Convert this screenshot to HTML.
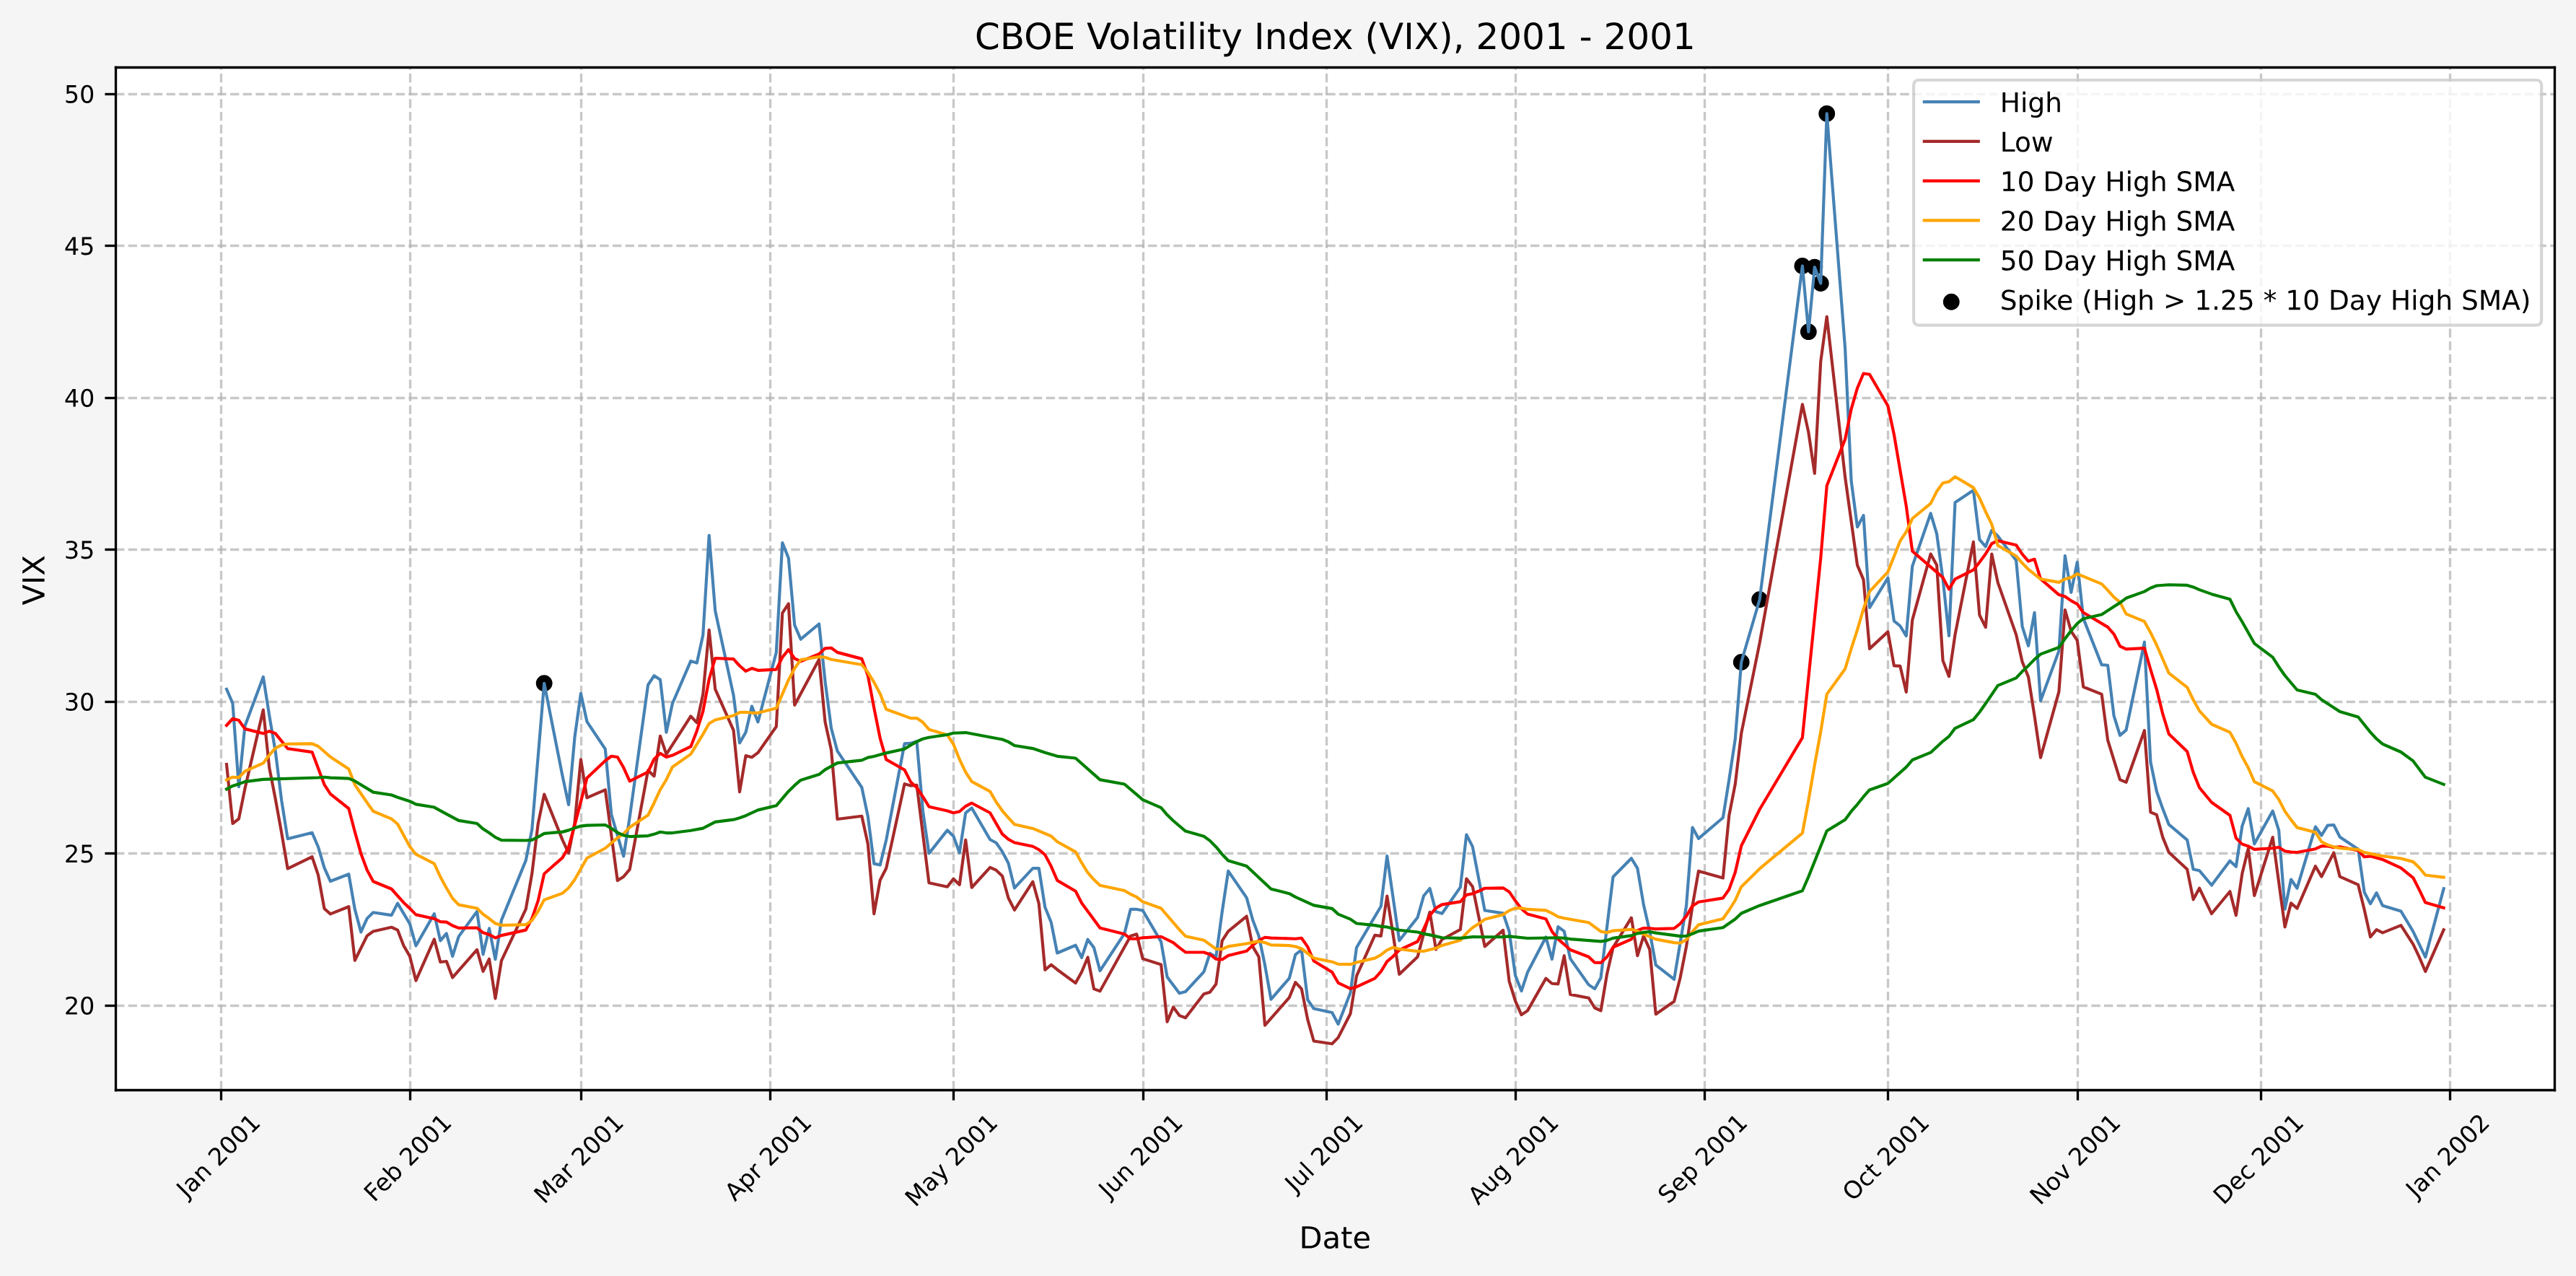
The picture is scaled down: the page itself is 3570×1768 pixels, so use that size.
<!DOCTYPE html>
<html lang="en">
<head>
<meta charset="utf-8">
<title>CBOE Volatility Index (VIX), 2001 - 2001</title>
<style>
html,body{margin:0;padding:0;background:#f5f5f5;font-family:"Liberation Sans",sans-serif}
body{width:3570px;height:1768px;overflow:hidden}
svg{display:block}
.t{font-family:"Liberation Sans",sans-serif;fill:#000;fill-opacity:0}
</style>
</head>
<body>
<svg width="3570" height="1768" viewBox="0 0 856.8 424.32">
<defs>
<style type="text/css">*{stroke-linejoin: round; stroke-linecap: butt}</style>
</defs>
<g id="figure_1">
<g id="patch_1">
<path d="M 0 424.32 L 856.8 424.32 L 856.8 0 L 0 0 z" style="fill: #f5f5f5"/>
</g>
<g id="axes_1">
<g id="patch_2">
<path d="M 38.4 362.4 L 849.6 362.4 L 849.6 22.32 L 38.4 22.32 z" style="fill: #ffffff"/>
</g>
<g id="PathCollection_1">
<defs>
<path id="m81a8349611" d="M 0 2.236 C 0.593 2.236 1.162 2 1.581 1.581 C 2 1.162 2.236 0.593 2.236 0 C 2.236 -0.593 2 -1.162 1.581 -1.581 C 1.162 -2 0.593 -2.236 0 -2.236 C -0.593 -2.236 -1.162 -2 -1.581 -1.581 C -2 -1.162 -2.236 -0.593 -2.236 0 C -2.236 0.593 -2 1.162 -1.581 1.581 C -1.162 2 -0.593 2.236 0 2.236 z" style="stroke: #000000"/>
</defs>
<g clip-path="url(#p060f261e8b)">
<use href="#m81a8349611" x="181.001712" y="227.224986" style="stroke: #000000"/>
<use href="#m81a8349611" x="579.176496" y="220.198034" style="stroke: #000000"/>
<use href="#m81a8349611" x="585.271008" y="199.37675" style="stroke: #000000"/>
<use href="#m81a8349611" x="599.491536" y="88.42568" style="stroke: #000000"/>
<use href="#m81a8349611" x="601.52304" y="110.326586" style="stroke: #000000"/>
<use href="#m81a8349611" x="603.554544" y="88.811259" style="stroke: #000000"/>
<use href="#m81a8349611" x="605.586048" y="94.20937" style="stroke: #000000"/>
<use href="#m81a8349611" x="607.617552" y="37.776" style="stroke: #000000"/>
</g>
</g>
<g id="matplotlib.axis_1">
<g id="xtick_1">
<g id="line2d_1">
<path d="M 73.56 362.4 L 73.56 22.32" clip-path="url(#p060f261e8b)" style="fill: none; stroke-dasharray: 2.96,1.28; stroke-dashoffset: 0; stroke: #b0b0b0; stroke-opacity: 0.7; stroke-width: 0.8"/>
</g>
<g id="line2d_2">
<defs>
<path id="m1504cfccaf" d="M 0 0 L 0 3.5" style="stroke: #000000; stroke-width: 0.8"/>
</defs>
<g>
<use href="#m1504cfccaf" x="73.56" y="362.4" style="stroke: #000000; stroke-width: 0.8"/>
</g>
</g>
<g id="text_1">
<text class="t" transform="translate(62.1475 398.7092) rotate(-45)" font-size="8" textLength="34.4958" lengthAdjust="spacingAndGlyphs">Jan 2001</text>
<g transform="translate(62.1475 398.7092) rotate(-45) scale(0.08 -0.08)">
<defs>
<path id="DejaVuSans-4a" d="M 628 4666 L 1259 4666 L 1259 325 Q 1259 -519 939 -900 Q 619 -1281 -91 -1281 L -331 -1281 L -331 -750 L -134 -750 Q 284 -750 456 -515 Q 628 -281 628 325 L 628 4666 z" transform="scale(0.015625)"/>
<path id="DejaVuSans-61" d="M 2194 1759 Q 1497 1759 1228 1600 Q 959 1441 959 1056 Q 959 750 1161 570 Q 1363 391 1709 391 Q 2188 391 2477 730 Q 2766 1069 2766 1631 L 2766 1759 L 2194 1759 z M 3341 1997 L 3341 0 L 2766 0 L 2766 531 Q 2569 213 2275 61 Q 1981 -91 1556 -91 Q 1019 -91 701 211 Q 384 513 384 1019 Q 384 1609 779 1909 Q 1175 2209 1959 2209 L 2766 2209 L 2766 2266 Q 2766 2663 2505 2880 Q 2244 3097 1772 3097 Q 1472 3097 1187 3025 Q 903 2953 641 2809 L 641 3341 Q 956 3463 1253 3523 Q 1550 3584 1831 3584 Q 2591 3584 2966 3190 Q 3341 2797 3341 1997 z" transform="scale(0.015625)"/>
<path id="DejaVuSans-6e" d="M 3513 2113 L 3513 0 L 2938 0 L 2938 2094 Q 2938 2591 2744 2837 Q 2550 3084 2163 3084 Q 1697 3084 1428 2787 Q 1159 2491 1159 1978 L 1159 0 L 581 0 L 581 3500 L 1159 3500 L 1159 2956 Q 1366 3272 1645 3428 Q 1925 3584 2291 3584 Q 2894 3584 3203 3211 Q 3513 2838 3513 2113 z" transform="scale(0.015625)"/>
<path id="DejaVuSans-20" transform="scale(0.015625)"/>
<path id="DejaVuSans-32" d="M 1228 531 L 3431 531 L 3431 0 L 469 0 L 469 531 Q 828 903 1448 1529 Q 2069 2156 2228 2338 Q 2531 2678 2651 2914 Q 2772 3150 2772 3378 Q 2772 3750 2511 3984 Q 2250 4219 1831 4219 Q 1534 4219 1204 4116 Q 875 4013 500 3803 L 500 4441 Q 881 4594 1212 4672 Q 1544 4750 1819 4750 Q 2544 4750 2975 4387 Q 3406 4025 3406 3419 Q 3406 3131 3298 2873 Q 3191 2616 2906 2266 Q 2828 2175 2409 1742 Q 1991 1309 1228 531 z" transform="scale(0.015625)"/>
<path id="DejaVuSans-30" d="M 2034 4250 Q 1547 4250 1301 3770 Q 1056 3291 1056 2328 Q 1056 1369 1301 889 Q 1547 409 2034 409 Q 2525 409 2770 889 Q 3016 1369 3016 2328 Q 3016 3291 2770 3770 Q 2525 4250 2034 4250 z M 2034 4750 Q 2819 4750 3233 4129 Q 3647 3509 3647 2328 Q 3647 1150 3233 529 Q 2819 -91 2034 -91 Q 1250 -91 836 529 Q 422 1150 422 2328 Q 422 3509 836 4129 Q 1250 4750 2034 4750 z" transform="scale(0.015625)"/>
<path id="DejaVuSans-31" d="M 794 531 L 1825 531 L 1825 4091 L 703 3866 L 703 4441 L 1819 4666 L 2450 4666 L 2450 531 L 3481 531 L 3481 0 L 794 0 L 794 531 z" transform="scale(0.015625)"/>
</defs>
<use href="#DejaVuSans-4a"/>
<use href="#DejaVuSans-61" transform="translate(29.492188 0)"/>
<use href="#DejaVuSans-6e" transform="translate(90.771484 0)"/>
<use href="#DejaVuSans-20" transform="translate(154.150391 0)"/>
<use href="#DejaVuSans-32" transform="translate(185.9375 0)"/>
<use href="#DejaVuSans-30" transform="translate(249.560547 0)"/>
<use href="#DejaVuSans-30" transform="translate(313.183594 0)"/>
<use href="#DejaVuSans-31" transform="translate(376.806641 0)"/>
</g>
</g>
</g>
<g id="xtick_2">
<g id="line2d_3">
<path d="M 136.44 362.4 L 136.44 22.32" clip-path="url(#p060f261e8b)" style="fill: none; stroke-dasharray: 2.96,1.28; stroke-dashoffset: 0; stroke: #b0b0b0; stroke-opacity: 0.7; stroke-width: 0.8"/>
</g>
<g id="line2d_4">
<g>
<use href="#m1504cfccaf" x="136.44" y="362.4" style="stroke: #000000; stroke-width: 0.8"/>
</g>
</g>
<g id="text_2">
<text class="t" transform="translate(124.4771 400.0032) rotate(-45)" font-size="8" textLength="36.3253" lengthAdjust="spacingAndGlyphs">Feb 2001</text>
<g transform="translate(124.4771 400.0032) rotate(-45) scale(0.08 -0.08)">
<defs>
<path id="DejaVuSans-46" d="M 628 4666 L 3309 4666 L 3309 4134 L 1259 4134 L 1259 2759 L 3109 2759 L 3109 2228 L 1259 2228 L 1259 0 L 628 0 L 628 4666 z" transform="scale(0.015625)"/>
<path id="DejaVuSans-65" d="M 3597 1894 L 3597 1613 L 953 1613 Q 991 1019 1311 708 Q 1631 397 2203 397 Q 2534 397 2845 478 Q 3156 559 3463 722 L 3463 178 Q 3153 47 2828 -22 Q 2503 -91 2169 -91 Q 1331 -91 842 396 Q 353 884 353 1716 Q 353 2575 817 3079 Q 1281 3584 2069 3584 Q 2775 3584 3186 3129 Q 3597 2675 3597 1894 z M 3022 2063 Q 3016 2534 2758 2815 Q 2500 3097 2075 3097 Q 1594 3097 1305 2825 Q 1016 2553 972 2059 L 3022 2063 z" transform="scale(0.015625)"/>
<path id="DejaVuSans-62" d="M 3116 1747 Q 3116 2381 2855 2742 Q 2594 3103 2138 3103 Q 1681 3103 1420 2742 Q 1159 2381 1159 1747 Q 1159 1113 1420 752 Q 1681 391 2138 391 Q 2594 391 2855 752 Q 3116 1113 3116 1747 z M 1159 2969 Q 1341 3281 1617 3432 Q 1894 3584 2278 3584 Q 2916 3584 3314 3078 Q 3713 2572 3713 1747 Q 3713 922 3314 415 Q 2916 -91 2278 -91 Q 1894 -91 1617 61 Q 1341 213 1159 525 L 1159 0 L 581 0 L 581 4863 L 1159 4863 L 1159 2969 z" transform="scale(0.015625)"/>
</defs>
<use href="#DejaVuSans-46"/>
<use href="#DejaVuSans-65" transform="translate(52.019531 0)"/>
<use href="#DejaVuSans-62" transform="translate(113.542969 0)"/>
<use href="#DejaVuSans-20" transform="translate(177.019531 0)"/>
<use href="#DejaVuSans-32" transform="translate(208.806641 0)"/>
<use href="#DejaVuSans-30" transform="translate(272.429688 0)"/>
<use href="#DejaVuSans-30" transform="translate(336.052734 0)"/>
<use href="#DejaVuSans-31" transform="translate(399.675781 0)"/>
</g>
</g>
</g>
<g id="xtick_3">
<g id="line2d_5">
<path d="M 193.32 362.4 L 193.32 22.32" clip-path="url(#p060f261e8b)" style="fill: none; stroke-dasharray: 2.96,1.28; stroke-dashoffset: 0; stroke: #b0b0b0; stroke-opacity: 0.7; stroke-width: 0.8"/>
</g>
<g id="line2d_6">
<g>
<use href="#m1504cfccaf" x="193.32" y="362.4" style="stroke: #000000; stroke-width: 0.8"/>
</g>
</g>
<g id="text_3">
<text class="t" transform="translate(181.03 400.6617) rotate(-45)" font-size="8" textLength="37.2575" lengthAdjust="spacingAndGlyphs">Mar 2001</text>
<g transform="translate(181.03 400.6617) rotate(-45) scale(0.08 -0.08)">
<defs>
<path id="DejaVuSans-4d" d="M 628 4666 L 1569 4666 L 2759 1491 L 3956 4666 L 4897 4666 L 4897 0 L 4281 0 L 4281 4097 L 3078 897 L 2444 897 L 1241 4097 L 1241 0 L 628 0 L 628 4666 z" transform="scale(0.015625)"/>
<path id="DejaVuSans-72" d="M 2631 2963 Q 2534 3019 2420 3045 Q 2306 3072 2169 3072 Q 1681 3072 1420 2755 Q 1159 2438 1159 1844 L 1159 0 L 581 0 L 581 3500 L 1159 3500 L 1159 2956 Q 1341 3275 1631 3429 Q 1922 3584 2338 3584 Q 2397 3584 2469 3576 Q 2541 3569 2628 3553 L 2631 2963 z" transform="scale(0.015625)"/>
</defs>
<use href="#DejaVuSans-4d"/>
<use href="#DejaVuSans-61" transform="translate(86.279297 0)"/>
<use href="#DejaVuSans-72" transform="translate(147.558594 0)"/>
<use href="#DejaVuSans-20" transform="translate(188.671875 0)"/>
<use href="#DejaVuSans-32" transform="translate(220.458984 0)"/>
<use href="#DejaVuSans-30" transform="translate(284.082031 0)"/>
<use href="#DejaVuSans-30" transform="translate(347.705078 0)"/>
<use href="#DejaVuSans-31" transform="translate(411.328125 0)"/>
</g>
</g>
</g>
<g id="xtick_4">
<g id="line2d_7">
<path d="M 256.2 362.4 L 256.2 22.32" clip-path="url(#p060f261e8b)" style="fill: none; stroke-dasharray: 2.96,1.28; stroke-dashoffset: 0; stroke: #b0b0b0; stroke-opacity: 0.7; stroke-width: 0.8"/>
</g>
<g id="line2d_8">
<g>
<use href="#m1504cfccaf" x="256.2" y="362.4" style="stroke: #000000; stroke-width: 0.8"/>
</g>
</g>
<g id="text_4">
<text class="t" transform="translate(244.4499 399.7752) rotate(-45)" font-size="8" textLength="36.0036" lengthAdjust="spacingAndGlyphs">Apr 2001</text>
<g transform="translate(244.4499 399.7752) rotate(-45) scale(0.08 -0.08)">
<defs>
<path id="DejaVuSans-41" d="M 2188 4044 L 1331 1722 L 3047 1722 L 2188 4044 z M 1831 4666 L 2547 4666 L 4325 0 L 3669 0 L 3244 1197 L 1141 1197 L 716 0 L 50 0 L 1831 4666 z" transform="scale(0.015625)"/>
<path id="DejaVuSans-70" d="M 1159 525 L 1159 -1331 L 581 -1331 L 581 3500 L 1159 3500 L 1159 2969 Q 1341 3281 1617 3432 Q 1894 3584 2278 3584 Q 2916 3584 3314 3078 Q 3713 2572 3713 1747 Q 3713 922 3314 415 Q 2916 -91 2278 -91 Q 1894 -91 1617 61 Q 1341 213 1159 525 z M 3116 1747 Q 3116 2381 2855 2742 Q 2594 3103 2138 3103 Q 1681 3103 1420 2742 Q 1159 2381 1159 1747 Q 1159 1113 1420 752 Q 1681 391 2138 391 Q 2594 391 2855 752 Q 3116 1113 3116 1747 z" transform="scale(0.015625)"/>
</defs>
<use href="#DejaVuSans-41"/>
<use href="#DejaVuSans-70" transform="translate(68.408203 0)"/>
<use href="#DejaVuSans-72" transform="translate(131.884766 0)"/>
<use href="#DejaVuSans-20" transform="translate(172.998047 0)"/>
<use href="#DejaVuSans-32" transform="translate(204.785156 0)"/>
<use href="#DejaVuSans-30" transform="translate(268.408203 0)"/>
<use href="#DejaVuSans-30" transform="translate(332.03125 0)"/>
<use href="#DejaVuSans-31" transform="translate(395.654297 0)"/>
</g>
</g>
</g>
<g id="xtick_5">
<g id="line2d_9">
<path d="M 317.16 362.4 L 317.16 22.32" clip-path="url(#p060f261e8b)" style="fill: none; stroke-dasharray: 2.96,1.28; stroke-dashoffset: 0; stroke: #b0b0b0; stroke-opacity: 0.7; stroke-width: 0.8"/>
</g>
<g id="line2d_10">
<g>
<use href="#m1504cfccaf" x="317.16" y="362.4" style="stroke: #000000; stroke-width: 0.8"/>
</g>
</g>
<g id="text_5">
<text class="t" transform="translate(304.4404 401.6844) rotate(-45)" font-size="8" textLength="38.7028" lengthAdjust="spacingAndGlyphs">May 2001</text>
<g transform="translate(304.4404 401.6844) rotate(-45) scale(0.08 -0.08)">
<defs>
<path id="DejaVuSans-79" d="M 2059 -325 Q 1816 -950 1584 -1140 Q 1353 -1331 966 -1331 L 506 -1331 L 506 -850 L 844 -850 Q 1081 -850 1212 -737 Q 1344 -625 1503 -206 L 1606 56 L 191 3500 L 800 3500 L 1894 763 L 2988 3500 L 3597 3500 L 2059 -325 z" transform="scale(0.015625)"/>
</defs>
<use href="#DejaVuSans-4d"/>
<use href="#DejaVuSans-61" transform="translate(86.279297 0)"/>
<use href="#DejaVuSans-79" transform="translate(147.558594 0)"/>
<use href="#DejaVuSans-20" transform="translate(206.738281 0)"/>
<use href="#DejaVuSans-32" transform="translate(238.525391 0)"/>
<use href="#DejaVuSans-30" transform="translate(302.148438 0)"/>
<use href="#DejaVuSans-30" transform="translate(365.771484 0)"/>
<use href="#DejaVuSans-31" transform="translate(429.394531 0)"/>
</g>
</g>
</g>
<g id="xtick_6">
<g id="line2d_11">
<path d="M 380.28 362.4 L 380.28 22.32" clip-path="url(#p060f261e8b)" style="fill: none; stroke-dasharray: 2.96,1.28; stroke-dashoffset: 0; stroke: #b0b0b0; stroke-opacity: 0.7; stroke-width: 0.8"/>
</g>
<g id="line2d_12">
<g>
<use href="#m1504cfccaf" x="380.28" y="362.4" style="stroke: #000000; stroke-width: 0.8"/>
</g>
</g>
<g id="text_6">
<text class="t" transform="translate(368.8454 398.8277) rotate(-45)" font-size="8" textLength="34.6638" lengthAdjust="spacingAndGlyphs">Jun 2001</text>
<g transform="translate(368.8454 398.8277) rotate(-45) scale(0.08 -0.08)">
<defs>
<path id="DejaVuSans-75" d="M 544 1381 L 544 3500 L 1119 3500 L 1119 1403 Q 1119 906 1312 657 Q 1506 409 1894 409 Q 2359 409 2629 706 Q 2900 1003 2900 1516 L 2900 3500 L 3475 3500 L 3475 0 L 2900 0 L 2900 538 Q 2691 219 2414 64 Q 2138 -91 1772 -91 Q 1169 -91 856 284 Q 544 659 544 1381 z M 1991 3584 L 1991 3584 z" transform="scale(0.015625)"/>
</defs>
<use href="#DejaVuSans-4a"/>
<use href="#DejaVuSans-75" transform="translate(29.492188 0)"/>
<use href="#DejaVuSans-6e" transform="translate(92.871094 0)"/>
<use href="#DejaVuSans-20" transform="translate(156.25 0)"/>
<use href="#DejaVuSans-32" transform="translate(188.037109 0)"/>
<use href="#DejaVuSans-30" transform="translate(251.660156 0)"/>
<use href="#DejaVuSans-30" transform="translate(315.283203 0)"/>
<use href="#DejaVuSans-31" transform="translate(378.90625 0)"/>
</g>
</g>
</g>
<g id="xtick_7">
<g id="line2d_13">
<path d="M 441.24 362.4 L 441.24 22.32" clip-path="url(#p060f261e8b)" style="fill: none; stroke-dasharray: 2.96,1.28; stroke-dashoffset: 0; stroke: #b0b0b0; stroke-opacity: 0.7; stroke-width: 0.8"/>
</g>
<g id="line2d_14">
<g>
<use href="#m1504cfccaf" x="441.24" y="362.4" style="stroke: #000000; stroke-width: 0.8"/>
</g>
</g>
<g id="text_7">
<text class="t" transform="translate(430.7972 396.8142) rotate(-45)" font-size="8" textLength="31.8161" lengthAdjust="spacingAndGlyphs">Jul 2001</text>
<g transform="translate(430.7972 396.8142) rotate(-45) scale(0.08 -0.08)">
<defs>
<path id="DejaVuSans-6c" d="M 603 4863 L 1178 4863 L 1178 0 L 603 0 L 603 4863 z" transform="scale(0.015625)"/>
</defs>
<use href="#DejaVuSans-4a"/>
<use href="#DejaVuSans-75" transform="translate(29.492188 0)"/>
<use href="#DejaVuSans-6c" transform="translate(92.871094 0)"/>
<use href="#DejaVuSans-20" transform="translate(120.654297 0)"/>
<use href="#DejaVuSans-32" transform="translate(152.441406 0)"/>
<use href="#DejaVuSans-30" transform="translate(216.064453 0)"/>
<use href="#DejaVuSans-30" transform="translate(279.6875 0)"/>
<use href="#DejaVuSans-31" transform="translate(343.310547 0)"/>
</g>
</g>
</g>
<g id="xtick_8">
<g id="line2d_15">
<path d="M 504.12 362.4 L 504.12 22.32" clip-path="url(#p060f261e8b)" style="fill: none; stroke-dasharray: 2.96,1.28; stroke-dashoffset: 0; stroke: #b0b0b0; stroke-opacity: 0.7; stroke-width: 0.8"/>
</g>
<g id="line2d_16">
<g>
<use href="#m1504cfccaf" x="504.12" y="362.4" style="stroke: #000000; stroke-width: 0.8"/>
</g>
</g>
<g id="text_8">
<text class="t" transform="translate(491.6636 401.0347) rotate(-45)" font-size="8" textLength="37.7848" lengthAdjust="spacingAndGlyphs">Aug 2001</text>
<g transform="translate(491.6636 401.0347) rotate(-45) scale(0.08 -0.08)">
<defs>
<path id="DejaVuSans-67" d="M 2906 1791 Q 2906 2416 2648 2759 Q 2391 3103 1925 3103 Q 1463 3103 1205 2759 Q 947 2416 947 1791 Q 947 1169 1205 825 Q 1463 481 1925 481 Q 2391 481 2648 825 Q 2906 1169 2906 1791 z M 3481 434 Q 3481 -459 3084 -895 Q 2688 -1331 1869 -1331 Q 1566 -1331 1297 -1286 Q 1028 -1241 775 -1147 L 775 -588 Q 1028 -725 1275 -790 Q 1522 -856 1778 -856 Q 2344 -856 2625 -561 Q 2906 -266 2906 331 L 2906 616 Q 2728 306 2450 153 Q 2172 0 1784 0 Q 1141 0 747 490 Q 353 981 353 1791 Q 353 2603 747 3093 Q 1141 3584 1784 3584 Q 2172 3584 2450 3431 Q 2728 3278 2906 2969 L 2906 3500 L 3481 3500 L 3481 434 z" transform="scale(0.015625)"/>
</defs>
<use href="#DejaVuSans-41"/>
<use href="#DejaVuSans-75" transform="translate(68.408203 0)"/>
<use href="#DejaVuSans-67" transform="translate(131.787109 0)"/>
<use href="#DejaVuSans-20" transform="translate(195.263672 0)"/>
<use href="#DejaVuSans-32" transform="translate(227.050781 0)"/>
<use href="#DejaVuSans-30" transform="translate(290.673828 0)"/>
<use href="#DejaVuSans-30" transform="translate(354.296875 0)"/>
<use href="#DejaVuSans-31" transform="translate(417.919922 0)"/>
</g>
</g>
</g>
<g id="xtick_9">
<g id="line2d_17">
<path d="M 567 362.4 L 567 22.32" clip-path="url(#p060f261e8b)" style="fill: none; stroke-dasharray: 2.96,1.28; stroke-dashoffset: 0; stroke: #b0b0b0; stroke-opacity: 0.7; stroke-width: 0.8"/>
</g>
<g id="line2d_18">
<g>
<use href="#m1504cfccaf" x="567" y="362.4" style="stroke: #000000; stroke-width: 0.8"/>
</g>
</g>
<g id="text_9">
<text class="t" transform="translate(554.8316 400.652) rotate(-45)" font-size="8" textLength="37.2419" lengthAdjust="spacingAndGlyphs">Sep 2001</text>
<g transform="translate(554.8316 400.652) rotate(-45) scale(0.08 -0.08)">
<defs>
<path id="DejaVuSans-53" d="M 3425 4513 L 3425 3897 Q 3066 4069 2747 4153 Q 2428 4238 2131 4238 Q 1616 4238 1336 4038 Q 1056 3838 1056 3469 Q 1056 3159 1242 3001 Q 1428 2844 1947 2747 L 2328 2669 Q 3034 2534 3370 2195 Q 3706 1856 3706 1288 Q 3706 609 3251 259 Q 2797 -91 1919 -91 Q 1588 -91 1214 -16 Q 841 59 441 206 L 441 856 Q 825 641 1194 531 Q 1563 422 1919 422 Q 2459 422 2753 634 Q 3047 847 3047 1241 Q 3047 1584 2836 1778 Q 2625 1972 2144 2069 L 1759 2144 Q 1053 2284 737 2584 Q 422 2884 422 3419 Q 422 4038 858 4394 Q 1294 4750 2059 4750 Q 2388 4750 2728 4690 Q 3069 4631 3425 4513 z" transform="scale(0.015625)"/>
</defs>
<use href="#DejaVuSans-53"/>
<use href="#DejaVuSans-65" transform="translate(63.476562 0)"/>
<use href="#DejaVuSans-70" transform="translate(125 0)"/>
<use href="#DejaVuSans-20" transform="translate(188.476562 0)"/>
<use href="#DejaVuSans-32" transform="translate(220.263672 0)"/>
<use href="#DejaVuSans-30" transform="translate(283.886719 0)"/>
<use href="#DejaVuSans-30" transform="translate(347.509766 0)"/>
<use href="#DejaVuSans-31" transform="translate(411.132812 0)"/>
</g>
</g>
</g>
<g id="xtick_10">
<g id="line2d_19">
<path d="M 627.96 362.4 L 627.96 22.32" clip-path="url(#p060f261e8b)" style="fill: none; stroke-dasharray: 2.96,1.28; stroke-dashoffset: 0; stroke: #b0b0b0; stroke-opacity: 0.7; stroke-width: 0.8"/>
</g>
<g id="line2d_20">
<g>
<use href="#m1504cfccaf" x="627.96" y="362.4" style="stroke: #000000; stroke-width: 0.8"/>
</g>
</g>
<g id="text_10">
<text class="t" transform="translate(616.2177 399.7699) rotate(-45)" font-size="8" textLength="35.9958" lengthAdjust="spacingAndGlyphs">Oct 2001</text>
<g transform="translate(616.2177 399.7699) rotate(-45) scale(0.08 -0.08)">
<defs>
<path id="DejaVuSans-4f" d="M 2522 4238 Q 1834 4238 1429 3725 Q 1025 3213 1025 2328 Q 1025 1447 1429 934 Q 1834 422 2522 422 Q 3209 422 3611 934 Q 4013 1447 4013 2328 Q 4013 3213 3611 3725 Q 3209 4238 2522 4238 z M 2522 4750 Q 3503 4750 4090 4092 Q 4678 3434 4678 2328 Q 4678 1225 4090 567 Q 3503 -91 2522 -91 Q 1538 -91 948 565 Q 359 1222 359 2328 Q 359 3434 948 4092 Q 1538 4750 2522 4750 z" transform="scale(0.015625)"/>
<path id="DejaVuSans-63" d="M 3122 3366 L 3122 2828 Q 2878 2963 2633 3030 Q 2388 3097 2138 3097 Q 1578 3097 1268 2742 Q 959 2388 959 1747 Q 959 1106 1268 751 Q 1578 397 2138 397 Q 2388 397 2633 464 Q 2878 531 3122 666 L 3122 134 Q 2881 22 2623 -34 Q 2366 -91 2075 -91 Q 1284 -91 818 406 Q 353 903 353 1747 Q 353 2603 823 3093 Q 1294 3584 2113 3584 Q 2378 3584 2631 3529 Q 2884 3475 3122 3366 z" transform="scale(0.015625)"/>
<path id="DejaVuSans-74" d="M 1172 4494 L 1172 3500 L 2356 3500 L 2356 3053 L 1172 3053 L 1172 1153 Q 1172 725 1289 603 Q 1406 481 1766 481 L 2356 481 L 2356 0 L 1766 0 Q 1100 0 847 248 Q 594 497 594 1153 L 594 3053 L 172 3053 L 172 3500 L 594 3500 L 594 4494 L 1172 4494 z" transform="scale(0.015625)"/>
</defs>
<use href="#DejaVuSans-4f"/>
<use href="#DejaVuSans-63" transform="translate(78.710938 0)"/>
<use href="#DejaVuSans-74" transform="translate(133.691406 0)"/>
<use href="#DejaVuSans-20" transform="translate(172.900391 0)"/>
<use href="#DejaVuSans-32" transform="translate(204.6875 0)"/>
<use href="#DejaVuSans-30" transform="translate(268.310547 0)"/>
<use href="#DejaVuSans-30" transform="translate(331.933594 0)"/>
<use href="#DejaVuSans-31" transform="translate(395.556641 0)"/>
</g>
</g>
</g>
<g id="xtick_11">
<g id="line2d_21">
<path d="M 691.08 362.4 L 691.08 22.32" clip-path="url(#p060f261e8b)" style="fill: none; stroke-dasharray: 2.96,1.28; stroke-dashoffset: 0; stroke: #b0b0b0; stroke-opacity: 0.7; stroke-width: 0.8"/>
</g>
<g id="line2d_22">
<g>
<use href="#m1504cfccaf" x="691.08" y="362.4" style="stroke: #000000; stroke-width: 0.8"/>
</g>
</g>
<g id="text_11">
<text class="t" transform="translate(678.5642 401.0303) rotate(-45)" font-size="8" textLength="37.777" lengthAdjust="spacingAndGlyphs">Nov 2001</text>
<g transform="translate(678.5642 401.0303) rotate(-45) scale(0.08 -0.08)">
<defs>
<path id="DejaVuSans-4e" d="M 628 4666 L 1478 4666 L 3547 763 L 3547 4666 L 4159 4666 L 4159 0 L 3309 0 L 1241 3903 L 1241 0 L 628 0 L 628 4666 z" transform="scale(0.015625)"/>
<path id="DejaVuSans-6f" d="M 1959 3097 Q 1497 3097 1228 2736 Q 959 2375 959 1747 Q 959 1119 1226 758 Q 1494 397 1959 397 Q 2419 397 2687 759 Q 2956 1122 2956 1747 Q 2956 2369 2687 2733 Q 2419 3097 1959 3097 z M 1959 3584 Q 2709 3584 3137 3096 Q 3566 2609 3566 1747 Q 3566 888 3137 398 Q 2709 -91 1959 -91 Q 1206 -91 779 398 Q 353 888 353 1747 Q 353 2609 779 3096 Q 1206 3584 1959 3584 z" transform="scale(0.015625)"/>
<path id="DejaVuSans-76" d="M 191 3500 L 800 3500 L 1894 563 L 2988 3500 L 3597 3500 L 2284 0 L 1503 0 L 191 3500 z" transform="scale(0.015625)"/>
</defs>
<use href="#DejaVuSans-4e"/>
<use href="#DejaVuSans-6f" transform="translate(74.804688 0)"/>
<use href="#DejaVuSans-76" transform="translate(135.986328 0)"/>
<use href="#DejaVuSans-20" transform="translate(195.166016 0)"/>
<use href="#DejaVuSans-32" transform="translate(226.953125 0)"/>
<use href="#DejaVuSans-30" transform="translate(290.576172 0)"/>
<use href="#DejaVuSans-30" transform="translate(354.199219 0)"/>
<use href="#DejaVuSans-31" transform="translate(417.822266 0)"/>
</g>
</g>
</g>
<g id="xtick_12">
<g id="line2d_23">
<path d="M 752.04 362.4 L 752.04 22.32" clip-path="url(#p060f261e8b)" style="fill: none; stroke-dasharray: 2.96,1.28; stroke-dashoffset: 0; stroke: #b0b0b0; stroke-opacity: 0.7; stroke-width: 0.8"/>
</g>
<g id="line2d_24">
<g>
<use href="#m1504cfccaf" x="752.04" y="362.4" style="stroke: #000000; stroke-width: 0.8"/>
</g>
</g>
<g id="text_12">
<text class="t" transform="translate(739.5566 400.9357) rotate(-45)" font-size="8" textLength="37.6442" lengthAdjust="spacingAndGlyphs">Dec 2001</text>
<g transform="translate(739.5566 400.9357) rotate(-45) scale(0.08 -0.08)">
<defs>
<path id="DejaVuSans-44" d="M 1259 4147 L 1259 519 L 2022 519 Q 2988 519 3436 956 Q 3884 1394 3884 2338 Q 3884 3275 3436 3711 Q 2988 4147 2022 4147 L 1259 4147 z M 628 4666 L 1925 4666 Q 3281 4666 3915 4102 Q 4550 3538 4550 2338 Q 4550 1131 3912 565 Q 3275 0 1925 0 L 628 0 L 628 4666 z" transform="scale(0.015625)"/>
</defs>
<use href="#DejaVuSans-44"/>
<use href="#DejaVuSans-65" transform="translate(77.001953 0)"/>
<use href="#DejaVuSans-63" transform="translate(138.525391 0)"/>
<use href="#DejaVuSans-20" transform="translate(193.505859 0)"/>
<use href="#DejaVuSans-32" transform="translate(225.292969 0)"/>
<use href="#DejaVuSans-30" transform="translate(288.916016 0)"/>
<use href="#DejaVuSans-30" transform="translate(352.539062 0)"/>
<use href="#DejaVuSans-31" transform="translate(416.162109 0)"/>
</g>
</g>
</g>
<g id="xtick_13">
<g id="line2d_25">
<path d="M 814.92 362.4 L 814.92 22.32" clip-path="url(#p060f261e8b)" style="fill: none; stroke-dasharray: 2.96,1.28; stroke-dashoffset: 0; stroke: #b0b0b0; stroke-opacity: 0.7; stroke-width: 0.8"/>
</g>
<g id="line2d_26">
<g>
<use href="#m1504cfccaf" x="814.92" y="362.4" style="stroke: #000000; stroke-width: 0.8"/>
</g>
</g>
<g id="text_13">
<text class="t" transform="translate(803.6464 398.7092) rotate(-45)" font-size="8" textLength="34.4333" lengthAdjust="spacingAndGlyphs">Jan 2002</text>
<g transform="translate(803.6464 398.7092) rotate(-45) scale(0.08 -0.08)">
<use href="#DejaVuSans-4a"/>
<use href="#DejaVuSans-61" transform="translate(29.492188 0)"/>
<use href="#DejaVuSans-6e" transform="translate(90.771484 0)"/>
<use href="#DejaVuSans-20" transform="translate(154.150391 0)"/>
<use href="#DejaVuSans-32" transform="translate(185.9375 0)"/>
<use href="#DejaVuSans-30" transform="translate(249.560547 0)"/>
<use href="#DejaVuSans-30" transform="translate(313.183594 0)"/>
<use href="#DejaVuSans-32" transform="translate(376.806641 0)"/>
</g>
</g>
</g>
<g id="text_14">
<text class="t" transform="translate(432.1212 415.1073)" font-size="10" textLength="23.3693" lengthAdjust="spacingAndGlyphs">Date</text>
<g transform="translate(432.1212 415.1073) scale(0.1 -0.1)">
<use href="#DejaVuSans-44"/>
<use href="#DejaVuSans-61" transform="translate(77.001953 0)"/>
<use href="#DejaVuSans-74" transform="translate(138.28125 0)"/>
<use href="#DejaVuSans-65" transform="translate(177.490234 0)"/>
</g>
</g>
</g>
<g id="matplotlib.axis_2">
<g id="ytick_1">
<g id="line2d_27">
<path d="M 38.4 334.44 L 849.6 334.44" clip-path="url(#p060f261e8b)" style="fill: none; stroke-dasharray: 2.96,1.28; stroke-dashoffset: 0; stroke: #b0b0b0; stroke-opacity: 0.7; stroke-width: 0.8"/>
</g>
<g id="line2d_28">
<defs>
<path id="m5d545ce8f8" d="M 0 0 L -3.5 0" style="stroke: #000000; stroke-width: 0.8"/>
</defs>
<g>
<use href="#m5d545ce8f8" x="38.4" y="334.44" style="stroke: #000000; stroke-width: 0.8"/>
</g>
</g>
<g id="text_15">
<text class="t" transform="translate(21.34 337.2994)" font-size="8" textLength="9.6486" lengthAdjust="spacingAndGlyphs">20</text>
<g transform="translate(21.34 337.2994) scale(0.08 -0.08)">
<use href="#DejaVuSans-32"/>
<use href="#DejaVuSans-30" transform="translate(63.623047 0)"/>
</g>
</g>
</g>
<g id="ytick_2">
<g id="line2d_29">
<path d="M 38.4 283.8 L 849.6 283.8" clip-path="url(#p060f261e8b)" style="fill: none; stroke-dasharray: 2.96,1.28; stroke-dashoffset: 0; stroke: #b0b0b0; stroke-opacity: 0.7; stroke-width: 0.8"/>
</g>
<g id="line2d_30">
<g>
<use href="#m5d545ce8f8" x="38.4" y="283.8" style="stroke: #000000; stroke-width: 0.8"/>
</g>
</g>
<g id="text_16">
<text class="t" transform="translate(21.34 286.7794)" font-size="8" textLength="9.4811" lengthAdjust="spacingAndGlyphs">25</text>
<g transform="translate(21.34 286.7794) scale(0.08 -0.08)">
<defs>
<path id="DejaVuSans-35" d="M 691 4666 L 3169 4666 L 3169 4134 L 1269 4134 L 1269 2991 Q 1406 3038 1543 3061 Q 1681 3084 1819 3084 Q 2600 3084 3056 2656 Q 3513 2228 3513 1497 Q 3513 744 3044 326 Q 2575 -91 1722 -91 Q 1428 -91 1123 -41 Q 819 9 494 109 L 494 744 Q 775 591 1075 516 Q 1375 441 1709 441 Q 2250 441 2565 725 Q 2881 1009 2881 1497 Q 2881 1984 2565 2268 Q 2250 2553 1709 2553 Q 1456 2553 1204 2497 Q 953 2441 691 2322 L 691 4666 z" transform="scale(0.015625)"/>
</defs>
<use href="#DejaVuSans-32"/>
<use href="#DejaVuSans-35" transform="translate(63.623047 0)"/>
</g>
</g>
</g>
<g id="ytick_3">
<g id="line2d_31">
<path d="M 38.4 233.4 L 849.6 233.4" clip-path="url(#p060f261e8b)" style="fill: none; stroke-dasharray: 2.96,1.28; stroke-dashoffset: 0; stroke: #b0b0b0; stroke-opacity: 0.7; stroke-width: 0.8"/>
</g>
<g id="line2d_32">
<g>
<use href="#m5d545ce8f8" x="38.4" y="233.4" style="stroke: #000000; stroke-width: 0.8"/>
</g>
</g>
<g id="text_17">
<text class="t" transform="translate(21.34 236.2594)" font-size="8" textLength="9.6486" lengthAdjust="spacingAndGlyphs">30</text>
<g transform="translate(21.34 236.2594) scale(0.08 -0.08)">
<defs>
<path id="DejaVuSans-33" d="M 2597 2516 Q 3050 2419 3304 2112 Q 3559 1806 3559 1356 Q 3559 666 3084 287 Q 2609 -91 1734 -91 Q 1441 -91 1130 -33 Q 819 25 488 141 L 488 750 Q 750 597 1062 519 Q 1375 441 1716 441 Q 2309 441 2620 675 Q 2931 909 2931 1356 Q 2931 1769 2642 2001 Q 2353 2234 1838 2234 L 1294 2234 L 1294 2753 L 1863 2753 Q 2328 2753 2575 2939 Q 2822 3125 2822 3475 Q 2822 3834 2567 4026 Q 2313 4219 1838 4219 Q 1578 4219 1281 4162 Q 984 4106 628 3988 L 628 4550 Q 988 4650 1302 4700 Q 1616 4750 1894 4750 Q 2613 4750 3031 4423 Q 3450 4097 3450 3541 Q 3450 3153 3228 2886 Q 3006 2619 2597 2516 z" transform="scale(0.015625)"/>
</defs>
<use href="#DejaVuSans-33"/>
<use href="#DejaVuSans-30" transform="translate(63.623047 0)"/>
</g>
</g>
</g>
<g id="ytick_4">
<g id="line2d_33">
<path d="M 38.4 182.76 L 849.6 182.76" clip-path="url(#p060f261e8b)" style="fill: none; stroke-dasharray: 2.96,1.28; stroke-dashoffset: 0; stroke: #b0b0b0; stroke-opacity: 0.7; stroke-width: 0.8"/>
</g>
<g id="line2d_34">
<g>
<use href="#m5d545ce8f8" x="38.4" y="182.76" style="stroke: #000000; stroke-width: 0.8"/>
</g>
</g>
<g id="text_18">
<text class="t" transform="translate(21.34 185.7394)" font-size="8" textLength="9.4811" lengthAdjust="spacingAndGlyphs">35</text>
<g transform="translate(21.34 185.7394) scale(0.08 -0.08)">
<use href="#DejaVuSans-33"/>
<use href="#DejaVuSans-35" transform="translate(63.623047 0)"/>
</g>
</g>
</g>
<g id="ytick_5">
<g id="line2d_35">
<path d="M 38.4 132.36 L 849.6 132.36" clip-path="url(#p060f261e8b)" style="fill: none; stroke-dasharray: 2.96,1.28; stroke-dashoffset: 0; stroke: #b0b0b0; stroke-opacity: 0.7; stroke-width: 0.8"/>
</g>
<g id="line2d_36">
<g>
<use href="#m5d545ce8f8" x="38.4" y="132.36" style="stroke: #000000; stroke-width: 0.8"/>
</g>
</g>
<g id="text_19">
<text class="t" transform="translate(21.34 135.2194)" font-size="8" textLength="9.6486" lengthAdjust="spacingAndGlyphs">40</text>
<g transform="translate(21.34 135.2194) scale(0.08 -0.08)">
<defs>
<path id="DejaVuSans-34" d="M 2419 4116 L 825 1625 L 2419 1625 L 2419 4116 z M 2253 4666 L 3047 4666 L 3047 1625 L 3713 1625 L 3713 1100 L 3047 1100 L 3047 0 L 2419 0 L 2419 1100 L 313 1100 L 313 1709 L 2253 4666 z" transform="scale(0.015625)"/>
</defs>
<use href="#DejaVuSans-34"/>
<use href="#DejaVuSans-30" transform="translate(63.623047 0)"/>
</g>
</g>
</g>
<g id="ytick_6">
<g id="line2d_37">
<path d="M 38.4 81.72 L 849.6 81.72" clip-path="url(#p060f261e8b)" style="fill: none; stroke-dasharray: 2.96,1.28; stroke-dashoffset: 0; stroke: #b0b0b0; stroke-opacity: 0.7; stroke-width: 0.8"/>
</g>
<g id="line2d_38">
<g>
<use href="#m5d545ce8f8" x="38.4" y="81.72" style="stroke: #000000; stroke-width: 0.8"/>
</g>
</g>
<g id="text_20">
<text class="t" transform="translate(21.34 84.6994)" font-size="8" textLength="9.4811" lengthAdjust="spacingAndGlyphs">45</text>
<g transform="translate(21.34 84.6994) scale(0.08 -0.08)">
<use href="#DejaVuSans-34"/>
<use href="#DejaVuSans-35" transform="translate(63.623047 0)"/>
</g>
</g>
</g>
<g id="ytick_7">
<g id="line2d_39">
<path d="M 38.4 31.32 L 849.6 31.32" clip-path="url(#p060f261e8b)" style="fill: none; stroke-dasharray: 2.96,1.28; stroke-dashoffset: 0; stroke: #b0b0b0; stroke-opacity: 0.7; stroke-width: 0.8"/>
</g>
<g id="line2d_40">
<g>
<use href="#m5d545ce8f8" x="38.4" y="31.32" style="stroke: #000000; stroke-width: 0.8"/>
</g>
</g>
<g id="text_21">
<text class="t" transform="translate(21.34 34.1794)" font-size="8" textLength="9.6486" lengthAdjust="spacingAndGlyphs">50</text>
<g transform="translate(21.34 34.1794) scale(0.08 -0.08)">
<use href="#DejaVuSans-35"/>
<use href="#DejaVuSans-30" transform="translate(63.623047 0)"/>
</g>
</g>
</g>
<g id="text_22">
<text class="t" transform="translate(14.7803 201.2323) rotate(-90)" font-size="10" textLength="16.3275" lengthAdjust="spacingAndGlyphs">VIX</text>
<g transform="translate(14.7803 201.2323) rotate(-90) scale(0.1 -0.1)">
<defs>
<path id="DejaVuSans-56" d="M 1831 0 L 50 4666 L 709 4666 L 2188 738 L 3669 4666 L 4325 4666 L 2547 0 L 1831 0 z" transform="scale(0.015625)"/>
<path id="DejaVuSans-49" d="M 628 4666 L 1259 4666 L 1259 0 L 628 0 L 628 4666 z" transform="scale(0.015625)"/>
<path id="DejaVuSans-58" d="M 403 4666 L 1081 4666 L 2241 2931 L 3406 4666 L 4084 4666 L 2584 2425 L 4184 0 L 3506 0 L 2194 1984 L 872 0 L 191 0 L 1856 2491 L 403 4666 z" transform="scale(0.015625)"/>
</defs>
<use href="#DejaVuSans-56"/>
<use href="#DejaVuSans-49" transform="translate(68.408203 0)"/>
<use href="#DejaVuSans-58" transform="translate(97.900391 0)"/>
</g>
</g>
</g>
<g id="line2d_41">
<path d="M 75.364 229.176 L 77.395 233.891 L 79.427 261.653 L 81.458 241.448 L 87.553 225.1 L 89.584 237.978 L 91.616 249.931 L 93.647 266.125 L 95.679 278.944 L 103.805 276.9 L 105.836 281.643 L 107.868 288.583 L 109.899 293.056 L 115.994 290.704 L 118.025 302.348 L 120.057 309.944 L 122.088 305.433 L 124.12 303.428 L 130.214 304.353 L 132.246 300.382 L 136.309 307.206 L 138.34 314.511 L 144.435 303.869 L 146.466 312.814 L 148.498 310.424 L 150.529 317.981 L 152.561 311.426 L 158.655 303.098 L 160.687 317.364 L 162.718 308.727 L 164.75 319.014 L 166.781 305.981 L 174.907 286.115 L 176.939 275.859 L 181.002 227.225 L 187.096 258.097 L 189.128 267.607 L 191.159 245.116 L 193.191 230.618 L 195.222 239.949 L 201.317 249.113 L 203.348 270.846 L 207.411 284.727 L 209.443 271.8 L 215.537 227.765 L 217.569 224.68 L 219.6 225.991 L 221.632 243.522 L 223.663 233.934 L 229.758 219.822 L 231.789 220.439 L 233.821 211.185 L 235.852 178.025 L 237.884 203.088 L 243.978 231.235 L 246.01 247.069 L 248.041 243.522 L 250.073 234.859 L 252.104 240.103 L 258.199 216.969 L 260.23 180.493 L 262.262 185.582 L 264.293 207.869 L 266.325 212.573 L 272.419 207.483 L 274.451 226.608 L 276.482 242.172 L 278.514 249.768 L 286.64 261.837 L 288.671 271.463 L 290.703 287.195 L 292.734 287.658 L 294.766 279.329 L 300.86 247.301 L 302.892 247.185 L 304.923 246.529 L 306.955 269.69 L 308.986 283.802 L 315.081 276.09 L 317.112 278.018 L 319.144 283.57 L 321.175 270.307 L 323.207 268.687 L 329.302 279.175 L 331.333 280.254 L 333.365 283.185 L 335.396 287.041 L 337.428 295.292 L 343.522 288.737 L 345.554 288.737 L 347.585 301.693 L 349.617 306.705 L 351.648 316.922 L 357.743 314.338 L 359.774 318.425 L 361.806 312.41 L 363.837 315.109 L 365.869 322.821 L 373.995 310.482 L 376.026 302.385 L 378.058 302.385 L 380.089 302.77 L 386.184 313.181 L 388.215 324.903 L 392.278 330.301 L 394.31 329.761 L 400.404 323.206 L 402.436 317.037 L 404.467 318.194 L 406.499 303.156 L 408.53 289.661 L 414.625 298.529 L 416.656 305.855 L 418.688 311.253 L 420.719 320.893 L 422.751 332.306 L 428.845 325.288 L 430.877 317.422 L 432.908 315.88 L 434.94 332.46 L 436.971 335.39 L 443.066 336.701 L 445.097 340.557 L 449.16 330.147 L 451.192 315.109 L 459.318 301.382 L 461.349 284.648 L 465.412 312.796 L 471.507 305.084 L 473.538 297.912 L 475.57 295.444 L 477.601 303.156 L 479.633 303.773 L 485.727 295.059 L 487.759 277.554 L 489.79 281.564 L 493.853 302.77 L 499.948 303.696 L 501.979 309.711 L 504.011 324.363 L 506.042 329.53 L 508.074 323.36 L 514.168 311.639 L 516.2 318.965 L 518.231 308.169 L 520.263 309.711 L 522.294 318.811 L 528.389 327.448 L 530.42 328.836 L 532.452 325.134 L 536.515 291.589 L 542.609 285.419 L 544.641 288.735 L 546.672 300.843 L 548.704 309.711 L 550.735 320.893 L 556.83 325.674 L 560.893 301.228 L 562.924 275.163 L 564.956 278.865 L 573.082 271.924 L 575.113 259.296 L 577.145 245.801 L 579.176 220.198 L 585.271 199.377 L 599.492 88.426 L 601.523 110.327 L 603.555 88.811 L 605.586 94.209 L 607.618 37.776 L 613.712 115.956 L 615.744 159.912 L 617.775 175.239 L 619.807 171.384 L 621.838 202.076 L 627.933 192.205 L 629.964 206.471 L 631.996 208.144 L 634.027 211.46 L 636.059 188.326 L 642.153 170.72 L 644.185 177.506 L 646.216 192.544 L 648.248 211.437 L 650.279 167.095 L 656.374 163.008 L 658.405 179.434 L 660.437 181.747 L 662.468 176.349 L 664.5 178.277 L 670.594 186.374 L 672.626 208.352 L 674.657 214.753 L 676.689 203.725 L 678.72 233.055 L 684.815 216.449 L 686.846 184.832 L 688.878 197.016 L 690.909 186.914 L 692.941 205.653 L 699.035 221.076 L 701.067 221.231 L 703.098 237.99 L 705.13 244.545 L 707.161 242.81 L 713.256 213.519 L 715.287 253.362 L 717.319 263.155 L 719.35 268.939 L 721.382 274.183 L 727.476 279.339 L 729.508 289.095 L 731.539 289.508 L 735.602 294.367 L 741.697 286.27 L 743.728 288.197 L 745.76 274.702 L 747.791 268.918 L 749.823 280.64 L 755.917 269.69 L 757.949 276.09 L 759.98 302.31 L 762.012 292.439 L 764.043 295.369 L 770.138 274.933 L 772.169 277.787 L 774.201 274.471 L 776.232 274.317 L 778.264 278.327 L 784.358 282.414 L 786.39 296.68 L 788.421 300.536 L 790.453 296.912 L 792.484 301.153 L 798.579 303.004 L 802.642 309.79 L 806.705 318.273 L 812.799 295.523 L 812.799 295.523" clip-path="url(#p060f261e8b)" style="fill: none; stroke: #4682b4; stroke-linecap: square"/>
</g>
<g id="line2d_42">
<path d="M 75.364 254.184 L 77.395 273.837 L 79.427 272.295 L 81.458 262.27 L 87.553 236.05 L 89.584 255.329 L 91.616 265.74 L 93.647 276.922 L 95.679 288.853 L 103.805 284.92 L 105.836 290.974 L 107.868 302.155 L 109.899 303.929 L 115.994 301.5 L 118.025 319.369 L 122.088 311.195 L 124.12 309.73 L 130.214 308.342 L 132.246 309.267 L 134.277 314.511 L 136.309 317.981 L 138.34 326.078 L 144.435 312.352 L 146.466 319.909 L 148.498 319.678 L 150.529 325.076 L 158.655 315.822 L 160.687 322.994 L 162.718 318.906 L 164.75 332.046 L 166.781 319.476 L 174.907 302.31 L 176.939 290.511 L 178.97 273.931 L 181.002 264.15 L 187.096 279.329 L 189.128 283.725 L 191.159 273.6 L 193.191 252.544 L 195.222 265.307 L 201.317 262.647 L 205.38 292.824 L 207.411 291.513 L 209.443 289.123 L 215.537 256.169 L 217.569 258.097 L 219.6 244.756 L 221.632 250.848 L 229.758 238.175 L 231.789 240.335 L 233.821 230.849 L 235.852 209.488 L 237.884 229.153 L 243.978 242.866 L 246.01 263.341 L 248.041 251.311 L 250.073 251.812 L 252.104 250.308 L 258.199 241.611 L 260.23 203.859 L 262.262 200.774 L 264.293 234.474 L 272.419 219.282 L 274.451 240.103 L 276.482 249.383 L 278.514 272.389 L 286.64 271.386 L 288.671 280.64 L 290.703 303.852 L 292.734 292.67 L 294.766 288.737 L 300.86 260.68 L 302.892 261.259 L 304.923 261.066 L 308.986 293.596 L 315.081 294.906 L 317.112 292.285 L 319.144 294.212 L 321.175 279.329 L 323.207 295.138 L 329.302 288.429 L 331.333 289.354 L 333.365 291.282 L 335.396 298.608 L 337.428 302.618 L 343.522 293.21 L 345.554 300.536 L 347.585 322.514 L 349.617 320.817 L 351.648 322.436 L 357.743 326.908 L 359.774 323.206 L 361.806 318.348 L 363.837 328.836 L 365.869 329.607 L 376.026 311.253 L 378.058 310.636 L 380.089 318.811 L 386.184 320.738 L 388.215 339.786 L 390.247 334.928 L 392.278 337.704 L 394.31 338.475 L 400.404 330.532 L 402.436 329.915 L 404.467 327.216 L 406.499 312.796 L 408.53 309.711 L 414.625 304.698 L 416.656 314.723 L 418.688 318.194 L 420.719 340.943 L 428.845 331.689 L 430.877 326.676 L 432.908 328.836 L 434.94 339.015 L 436.971 346.187 L 443.066 347.112 L 445.097 345.03 L 449.16 337.087 L 451.192 324.594 L 457.286 311.022 L 459.318 311.253 L 461.349 297.989 L 465.412 323.977 L 471.507 318.194 L 473.538 310.482 L 475.57 303.31 L 477.601 315.726 L 479.633 312.41 L 485.727 309.094 L 487.759 292.206 L 489.79 294.828 L 493.853 314.723 L 499.948 309.325 L 501.979 326.291 L 504.011 332.846 L 506.042 337.473 L 508.074 336.085 L 514.168 325.365 L 516.2 327.062 L 518.231 327.216 L 520.263 317.808 L 522.294 330.686 L 528.389 331.843 L 530.42 335.159 L 532.452 336.085 L 534.483 323.977 L 536.515 315.109 L 542.609 305.2 L 544.641 317.808 L 546.672 311.253 L 548.704 315.726 L 550.735 337.241 L 556.83 333 L 558.861 325.134 L 560.893 314.723 L 562.924 301.228 L 564.956 289.661 L 573.082 291.974 L 575.113 271.153 L 577.145 260.79 L 579.176 243.873 L 585.271 213.797 L 599.492 134.464 L 601.523 143.718 L 603.555 157.444 L 605.586 120.197 L 607.618 105.314 L 613.712 158.736 L 617.775 187.964 L 619.807 192.745 L 621.838 215.725 L 627.933 210.096 L 629.964 221.355 L 631.996 221.485 L 634.027 230.132 L 636.059 206.178 L 642.153 184.215 L 644.185 187.917 L 646.216 219.688 L 648.248 224.932 L 650.279 211.051 L 656.374 180.205 L 658.405 204.496 L 660.437 208.584 L 662.468 184.215 L 664.5 193.7 L 670.594 211.051 L 672.626 220.074 L 674.657 225.086 L 676.689 238.042 L 678.72 251.948 L 684.815 230.009 L 686.846 202.8 L 688.878 209.895 L 690.909 212.979 L 692.941 228.428 L 699.035 230.857 L 701.067 246.164 L 705.13 259.3 L 707.161 260.148 L 713.256 242.926 L 715.287 270.096 L 717.319 270.944 L 719.35 278.424 L 721.382 283.437 L 727.476 289.095 L 729.508 299.12 L 731.539 295.369 L 735.602 303.852 L 741.697 296.449 L 743.728 304.392 L 745.76 290.511 L 747.791 282.182 L 749.823 297.837 L 755.917 278.404 L 759.98 308.248 L 762.012 300.305 L 764.043 302.078 L 770.138 288.043 L 772.169 291.513 L 776.232 283.57 L 778.264 291.513 L 784.358 294.212 L 786.39 302.464 L 788.421 311.564 L 790.453 309.173 L 792.484 310.175 L 798.579 307.708 L 802.642 314.031 L 804.673 318.273 L 806.705 323.054 L 812.799 309.173 L 812.799 309.173" clip-path="url(#p060f261e8b)" style="fill: none; stroke: #a52a2a; stroke-linecap: square"/>
</g>
<g id="line2d_43">
<path d="M 75.364 241.2 L 77.395 238.981 L 79.427 239.52 L 81.458 242.374 L 87.553 243.916 L 89.584 243.145 L 91.616 243.916 L 95.679 248.928 L 103.805 250.1 L 107.868 260.894 L 109.899 264.007 L 115.994 268.86 L 118.025 276.579 L 120.057 283.84 L 122.088 289.314 L 124.12 293.107 L 130.214 295.62 L 134.277 300.177 L 136.309 302.072 L 138.34 304.167 L 144.435 305.509 L 146.466 306.495 L 148.498 306.634 L 150.529 307.801 L 152.561 308.625 L 158.655 308.524 L 160.687 310.144 L 162.718 310.776 L 164.75 311.882 L 166.781 311.07 L 174.907 309.272 L 176.939 305.419 L 178.97 299.549 L 181.002 290.577 L 187.096 285.211 L 189.128 281.702 L 191.159 274.356 L 195.222 258.747 L 201.317 252.952 L 203.348 251.458 L 205.38 251.748 L 207.411 255.254 L 209.443 259.747 L 215.537 256.714 L 217.569 252.421 L 219.6 250.509 L 221.632 251.773 L 223.663 251.164 L 229.758 248.269 L 231.789 243.054 L 233.821 236.566 L 235.852 225.896 L 237.884 218.871 L 243.978 219.16 L 246.01 221.398 L 248.041 223.161 L 250.073 222.265 L 252.104 222.921 L 258.199 222.624 L 260.23 218.583 L 262.262 216.03 L 264.293 218.988 L 266.325 219.925 L 272.419 217.503 L 274.451 215.593 L 276.482 215.449 L 278.514 216.927 L 286.64 219.093 L 288.671 224.633 L 290.703 235.435 L 292.734 245.495 L 294.766 252.557 L 300.86 256.009 L 302.892 260.019 L 304.923 261.902 L 306.955 264.916 L 308.986 268.25 L 315.081 269.657 L 317.112 270.293 L 319.144 269.881 L 321.175 268.088 L 323.207 267.054 L 329.302 270.306 L 333.365 277.34 L 335.396 279.094 L 337.428 280.208 L 343.522 281.457 L 345.554 282.533 L 347.585 284.249 L 349.617 288.074 L 351.648 292.78 L 357.743 296.33 L 359.774 300.282 L 365.869 308.572 L 373.995 310.623 L 376.026 312.154 L 378.058 312.188 L 380.089 311.837 L 386.184 311.458 L 390.247 313.486 L 392.278 315.151 L 394.31 316.655 L 400.404 316.674 L 402.436 317.388 L 404.467 318.949 L 406.499 319.065 L 408.53 317.754 L 414.625 316.25 L 416.656 314.334 L 418.688 312.745 L 420.719 311.697 L 422.751 311.901 L 430.877 312.179 L 432.908 311.947 L 434.94 314.839 L 436.971 319.555 L 443.066 323.276 L 445.097 326.823 L 449.16 328.751 L 451.192 328.172 L 457.286 325.365 L 459.318 323.09 L 461.349 319.717 L 463.381 318.008 L 465.412 315.946 L 471.507 313.081 L 473.538 308.921 L 475.57 304.41 L 477.601 301.945 L 479.633 300.8 L 485.727 299.855 L 487.759 297.584 L 489.79 297.16 L 491.822 296.343 L 493.853 295.379 L 499.948 295.271 L 501.979 296.555 L 504.011 299.543 L 506.042 302.211 L 508.074 303.962 L 514.168 305.562 L 516.2 309.753 L 518.231 312.276 L 522.294 315.838 L 528.389 318.182 L 530.42 320.102 L 532.452 320.141 L 534.483 318.243 L 536.515 314.997 L 542.609 312.337 L 544.641 309.42 L 546.672 308.647 L 548.704 308.688 L 550.735 308.896 L 556.83 308.719 L 558.861 307.153 L 560.893 304.641 L 562.924 301.236 L 564.956 299.944 L 573.082 298.652 L 575.113 295.754 L 577.145 290.11 L 579.176 281.277 L 585.271 269.148 L 599.492 245.303 L 605.586 185.543 L 607.618 161.534 L 613.712 146.024 L 615.744 136.043 L 617.775 129.044 L 619.807 124.213 L 621.838 124.502 L 627.933 134.935 L 629.964 144.446 L 634.027 168.242 L 636.059 183.273 L 646.216 192.044 L 648.248 195.936 L 650.279 192.567 L 656.374 189.491 L 658.405 186.979 L 660.437 184.194 L 662.468 180.781 L 664.5 179.816 L 670.594 181.254 L 672.626 184.282 L 674.657 186.606 L 676.689 185.95 L 678.72 192.526 L 684.815 197.781 L 686.846 198.359 L 688.878 199.778 L 690.909 200.885 L 692.941 203.719 L 701.067 208.527 L 703.098 210.846 L 705.13 214.892 L 707.161 215.842 L 713.256 215.541 L 715.287 222.592 L 717.319 229.206 L 719.35 237.408 L 721.382 244.062 L 727.476 249.891 L 729.508 256.874 L 731.539 261.899 L 735.602 266.832 L 741.697 271.126 L 743.728 278.715 L 745.76 280.708 L 747.791 281.382 L 749.823 282.468 L 755.917 282.05 L 757.949 281.772 L 759.98 283.011 L 762.012 283.351 L 764.043 283.439 L 770.138 282.294 L 772.169 281.35 L 774.201 281.338 L 776.232 281.801 L 778.264 281.608 L 784.358 282.822 L 786.39 284.932 L 788.421 284.727 L 792.484 285.818 L 798.579 288.649 L 802.642 291.907 L 804.673 295.896 L 806.705 300.131 L 812.799 301.878 L 812.799 301.878" clip-path="url(#p060f261e8b)" style="fill: none; stroke: #ff0000; stroke-linecap: square"/>
</g>
<g id="line2d_44">
<path d="M 75.364 259.339 L 77.395 258.414 L 79.427 258.568 L 81.458 256.486 L 87.553 253.787 L 89.584 251.088 L 91.616 248.774 L 93.647 247.772 L 95.679 247.386 L 103.805 247.309 L 105.836 248.157 L 109.899 251.705 L 115.994 255.715 L 118.025 260.959 L 122.088 266.896 L 124.12 269.75 L 130.214 272.295 L 132.246 274.021 L 136.309 281.499 L 138.34 284.092 L 144.435 287.165 L 146.466 291.575 L 148.498 295.314 L 150.529 298.75 L 152.561 300.866 L 158.655 302.048 L 160.687 304.024 L 162.718 305.472 L 164.75 307.081 L 166.781 307.687 L 174.907 307.483 L 176.939 306.088 L 178.97 303.01 L 181.002 299.243 L 187.096 297.03 L 189.128 295.263 L 191.159 292.493 L 195.222 285.357 L 201.317 282.064 L 205.38 278.628 L 207.411 277.234 L 209.443 275.096 L 215.537 271.077 L 217.569 266.996 L 219.6 262.612 L 221.632 259.251 L 223.663 255.042 L 229.758 250.768 L 233.821 244.154 L 235.852 240.593 L 237.884 239.385 L 243.978 237.942 L 246.01 236.927 L 248.041 236.81 L 250.073 237.071 L 252.104 237.075 L 258.199 235.5 L 262.262 226.116 L 264.293 222.266 L 266.325 219.436 L 272.419 218.389 L 274.451 218.592 L 276.482 219.305 L 286.64 221.045 L 288.671 223.57 L 290.703 226.859 L 292.734 230.698 L 294.766 235.853 L 302.892 238.822 L 304.923 238.809 L 306.955 240.195 L 308.986 242.569 L 315.081 244.375 L 317.112 247.444 L 319.144 252.527 L 321.175 256.766 L 323.207 259.886 L 329.302 263.19 L 331.333 266.718 L 333.365 269.598 L 335.396 271.954 L 337.428 274.133 L 343.522 275.499 L 349.617 278.042 L 351.648 279.907 L 357.743 283.279 L 359.774 286.911 L 361.806 290.216 L 363.837 292.508 L 365.869 294.409 L 373.995 296.156 L 376.026 297.343 L 378.058 298.315 L 380.089 299.859 L 386.184 302.051 L 392.278 309.142 L 394.31 311.328 L 400.404 312.642 L 404.467 315.59 L 406.499 315.627 L 408.53 314.738 L 414.625 313.815 L 418.688 313 L 420.719 313.443 L 422.751 314.259 L 428.845 314.436 L 430.877 314.764 L 432.908 315.487 L 436.971 318.597 L 443.066 319.84 L 445.097 320.617 L 449.16 320.681 L 451.192 320.031 L 457.286 318.633 L 459.318 317.509 L 461.349 315.928 L 463.381 315.055 L 465.412 315.604 L 471.507 316.337 L 473.538 316.322 L 477.601 315.319 L 479.633 314.39 L 485.727 312.687 L 487.759 310.337 L 489.79 308.477 L 491.822 307.195 L 493.853 305.72 L 499.948 304.157 L 501.979 302.788 L 504.011 301.997 L 506.042 301.982 L 508.074 302.381 L 514.168 302.747 L 516.2 303.688 L 518.231 304.854 L 520.263 305.323 L 528.389 306.765 L 532.452 309.746 L 534.483 310.15 L 536.515 309.499 L 542.609 309.065 L 544.641 309.614 L 546.672 310.662 L 550.735 312.333 L 556.83 313.461 L 558.861 313.625 L 560.893 312.468 L 562.924 309.833 L 564.956 307.529 L 573.082 305.533 L 575.113 302.639 L 577.145 299.398 L 579.176 294.885 L 585.271 288.891 L 599.492 277.055 L 601.523 266.197 L 603.555 254.381 L 605.586 243.303 L 607.618 230.855 L 613.712 222.416 L 615.744 215.698 L 617.775 209.418 L 619.807 202.502 L 621.838 196.709 L 627.933 190.172 L 631.996 179.922 L 634.027 176.826 L 636.059 172.441 L 642.153 167.429 L 644.185 163.396 L 646.216 160.621 L 648.248 160.171 L 650.279 158.535 L 656.374 162.154 L 658.405 165.616 L 660.437 170.152 L 662.468 174.315 L 664.5 181.413 L 670.594 184.909 L 672.626 187.276 L 674.657 189.344 L 678.72 192.546 L 684.815 193.654 L 686.846 192.534 L 688.878 192.025 L 690.909 190.833 L 699.035 194.183 L 701.067 196.286 L 703.098 198.558 L 705.13 200.247 L 707.161 204.145 L 713.256 206.68 L 715.287 210.341 L 717.319 214.497 L 721.382 223.836 L 727.476 228.546 L 729.508 232.743 L 731.539 236.361 L 735.602 240.837 L 741.697 243.517 L 743.728 247.142 L 745.76 251.606 L 747.791 255.293 L 749.823 259.931 L 755.917 263.035 L 757.949 265.831 L 759.98 269.786 L 762.012 272.612 L 764.043 275.194 L 770.138 276.768 L 772.169 279.917 L 774.201 280.946 L 776.232 281.61 L 778.264 282.038 L 784.358 282.514 L 786.39 283.448 L 790.453 284.305 L 792.484 284.667 L 798.579 285.471 L 802.642 286.59 L 804.673 288.537 L 806.705 291.004 L 812.799 291.762 L 812.799 291.762" clip-path="url(#p060f261e8b)" style="fill: none; stroke: #ffa500; stroke-linecap: square"/>
</g>
<g id="line2d_45">
<path d="M 75.364 262.424 L 77.395 261.344 L 79.427 260.727 L 81.458 259.956 L 87.553 259.185 L 105.836 258.607 L 107.868 258.414 L 109.899 258.645 L 115.994 258.876 L 118.025 259.725 L 124.12 263.426 L 130.214 264.352 L 132.246 265.123 L 136.309 266.451 L 138.34 267.453 L 144.435 268.456 L 148.498 270.692 L 152.561 272.851 L 158.655 273.854 L 160.687 275.666 L 162.718 276.964 L 164.75 278.429 L 166.781 279.381 L 174.907 279.483 L 176.939 279.329 L 178.97 278.327 L 181.002 277.17 L 187.096 276.63 L 189.128 276.09 L 191.159 275.319 L 193.191 274.702 L 195.222 274.471 L 201.317 274.317 L 203.348 275.473 L 205.38 276.861 L 207.411 277.787 L 209.443 278.172 L 215.537 277.941 L 217.569 277.401 L 219.6 276.675 L 221.632 276.973 L 223.663 276.973 L 229.758 276.17 L 233.821 275.435 L 237.884 273.326 L 243.978 272.553 L 246.01 271.964 L 248.041 271.245 L 252.104 269.367 L 258.199 267.912 L 262.262 263.149 L 264.293 261.164 L 266.325 259.426 L 272.419 257.541 L 274.451 255.915 L 278.514 253.713 L 286.64 252.797 L 288.671 251.904 L 290.703 251.505 L 294.766 250.403 L 300.86 249.079 L 302.892 247.781 L 304.923 246.637 L 306.955 245.698 L 308.986 245.217 L 315.081 244.325 L 317.112 243.776 L 321.175 243.618 L 331.333 245.532 L 333.365 245.881 L 335.396 246.685 L 337.428 247.911 L 343.522 248.9 L 347.585 250.26 L 351.648 251.488 L 357.743 252.13 L 365.869 259.3 L 373.995 260.76 L 378.058 264.217 L 380.089 265.943 L 386.184 268.605 L 388.215 270.98 L 390.247 272.946 L 394.31 276.376 L 400.404 278.108 L 402.436 279.571 L 404.467 281.624 L 406.499 284.085 L 408.53 286.205 L 414.625 287.999 L 422.751 295.631 L 428.845 297.157 L 430.877 298.291 L 436.971 301.053 L 443.066 302.128 L 445.097 303.986 L 449.16 305.664 L 451.192 307.083 L 457.286 307.703 L 459.318 308.071 L 461.349 308.273 L 465.412 309.311 L 471.507 309.967 L 473.538 310.53 L 475.57 310.885 L 479.633 311.821 L 485.727 311.979 L 489.79 311.537 L 493.853 311.584 L 499.948 311.554 L 501.979 311.366 L 508.074 311.995 L 518.231 311.822 L 520.263 311.972 L 522.294 312.252 L 532.452 313.043 L 534.483 312.737 L 536.515 311.964 L 542.609 311.135 L 544.641 310.405 L 546.672 310.05 L 548.704 309.85 L 550.735 310.22 L 558.861 311.305 L 560.893 311.259 L 562.924 310.512 L 564.956 309.629 L 573.082 308.447 L 577.145 305.644 L 579.176 303.723 L 585.271 301.12 L 599.492 296.221 L 601.523 291.567 L 607.618 276.321 L 613.712 272.583 L 615.744 269.818 L 617.775 267.491 L 619.807 264.945 L 621.838 262.667 L 627.933 260.516 L 634.027 255.099 L 636.059 252.73 L 642.153 250.241 L 646.216 246.499 L 648.248 244.881 L 650.279 242.174 L 656.374 239.321 L 658.405 236.804 L 660.437 233.951 L 664.5 227.961 L 670.594 225.462 L 672.626 223.276 L 674.657 221.378 L 676.689 219.277 L 678.72 217.533 L 684.815 215.266 L 686.846 212.399 L 688.878 209.73 L 690.909 207.357 L 692.941 205.726 L 699.035 204.35 L 703.098 201.697 L 705.13 200.429 L 707.161 198.915 L 713.256 196.714 L 715.287 195.538 L 717.319 194.771 L 721.382 194.464 L 727.476 194.616 L 729.508 195.222 L 731.539 196.117 L 735.602 197.552 L 741.697 199.269 L 743.728 203.388 L 745.76 206.767 L 749.823 213.979 L 755.917 218.535 L 757.949 221.756 L 759.98 224.645 L 764.043 229.447 L 770.138 230.87 L 772.169 232.69 L 778.264 236.628 L 784.358 238.456 L 788.421 243.503 L 790.453 245.704 L 792.484 247.41 L 798.579 250.081 L 802.642 253.052 L 806.705 258.462 L 812.799 260.849 L 812.799 260.849" clip-path="url(#p060f261e8b)" style="fill: none; stroke: #008000; stroke-linecap: square"/>
</g>
<g id="patch_3">
<path d="M 38.52 362.52 L 38.52 22.44" style="fill: none; stroke: #000000; stroke-width: 0.8; stroke-linejoin: miter; stroke-linecap: square"/>
</g>
<g id="patch_4">
<path d="M 849.72 362.52 L 849.72 22.44" style="fill: none; stroke: #000000; stroke-width: 0.8; stroke-linejoin: miter; stroke-linecap: square"/>
</g>
<g id="patch_5">
<path d="M 38.52 362.52 L 849.72 362.52" style="fill: none; stroke: #000000; stroke-width: 0.8; stroke-linejoin: miter; stroke-linecap: square"/>
</g>
<g id="patch_6">
<path d="M 38.52 22.44 L 849.72 22.44" style="fill: none; stroke: #000000; stroke-width: 0.8; stroke-linejoin: miter; stroke-linecap: square"/>
</g>
<g id="text_23">
<text class="t" transform="translate(324.219 16.32)" font-size="12" textLength="238.6202" lengthAdjust="spacingAndGlyphs">CBOE Volatility Index (VIX), 2001 - 2001</text>
<g transform="translate(324.219 16.32) scale(0.12 -0.12)">
<defs>
<path id="DejaVuSans-43" d="M 4122 4306 L 4122 3641 Q 3803 3938 3442 4084 Q 3081 4231 2675 4231 Q 1875 4231 1450 3742 Q 1025 3253 1025 2328 Q 1025 1406 1450 917 Q 1875 428 2675 428 Q 3081 428 3442 575 Q 3803 722 4122 1019 L 4122 359 Q 3791 134 3420 21 Q 3050 -91 2638 -91 Q 1578 -91 968 557 Q 359 1206 359 2328 Q 359 3453 968 4101 Q 1578 4750 2638 4750 Q 3056 4750 3426 4639 Q 3797 4528 4122 4306 z" transform="scale(0.015625)"/>
<path id="DejaVuSans-42" d="M 1259 2228 L 1259 519 L 2272 519 Q 2781 519 3026 730 Q 3272 941 3272 1375 Q 3272 1813 3026 2020 Q 2781 2228 2272 2228 L 1259 2228 z M 1259 4147 L 1259 2741 L 2194 2741 Q 2656 2741 2882 2914 Q 3109 3088 3109 3444 Q 3109 3797 2882 3972 Q 2656 4147 2194 4147 L 1259 4147 z M 628 4666 L 2241 4666 Q 2963 4666 3353 4366 Q 3744 4066 3744 3513 Q 3744 3084 3544 2831 Q 3344 2578 2956 2516 Q 3422 2416 3680 2098 Q 3938 1781 3938 1306 Q 3938 681 3513 340 Q 3088 0 2303 0 L 628 0 L 628 4666 z" transform="scale(0.015625)"/>
<path id="DejaVuSans-45" d="M 628 4666 L 3578 4666 L 3578 4134 L 1259 4134 L 1259 2753 L 3481 2753 L 3481 2222 L 1259 2222 L 1259 531 L 3634 531 L 3634 0 L 628 0 L 628 4666 z" transform="scale(0.015625)"/>
<path id="DejaVuSans-69" d="M 603 3500 L 1178 3500 L 1178 0 L 603 0 L 603 3500 z M 603 4863 L 1178 4863 L 1178 4134 L 603 4134 L 603 4863 z" transform="scale(0.015625)"/>
<path id="DejaVuSans-64" d="M 2906 2969 L 2906 4863 L 3481 4863 L 3481 0 L 2906 0 L 2906 525 Q 2725 213 2448 61 Q 2172 -91 1784 -91 Q 1150 -91 751 415 Q 353 922 353 1747 Q 353 2572 751 3078 Q 1150 3584 1784 3584 Q 2172 3584 2448 3432 Q 2725 3281 2906 2969 z M 947 1747 Q 947 1113 1208 752 Q 1469 391 1925 391 Q 2381 391 2643 752 Q 2906 1113 2906 1747 Q 2906 2381 2643 2742 Q 2381 3103 1925 3103 Q 1469 3103 1208 2742 Q 947 2381 947 1747 z" transform="scale(0.015625)"/>
<path id="DejaVuSans-78" d="M 3513 3500 L 2247 1797 L 3578 0 L 2900 0 L 1881 1375 L 863 0 L 184 0 L 1544 1831 L 300 3500 L 978 3500 L 1906 2253 L 2834 3500 L 3513 3500 z" transform="scale(0.015625)"/>
<path id="DejaVuSans-28" d="M 1984 4856 Q 1566 4138 1362 3434 Q 1159 2731 1159 2009 Q 1159 1288 1364 580 Q 1569 -128 1984 -844 L 1484 -844 Q 1016 -109 783 600 Q 550 1309 550 2009 Q 550 2706 781 3412 Q 1013 4119 1484 4856 L 1984 4856 z" transform="scale(0.015625)"/>
<path id="DejaVuSans-29" d="M 513 4856 L 1013 4856 Q 1481 4119 1714 3412 Q 1947 2706 1947 2009 Q 1947 1309 1714 600 Q 1481 -109 1013 -844 L 513 -844 Q 928 -128 1133 580 Q 1338 1288 1338 2009 Q 1338 2731 1133 3434 Q 928 4138 513 4856 z" transform="scale(0.015625)"/>
<path id="DejaVuSans-2c" d="M 750 794 L 1409 794 L 1409 256 L 897 -744 L 494 -744 L 750 256 L 750 794 z" transform="scale(0.015625)"/>
<path id="DejaVuSans-2d" d="M 313 2009 L 1997 2009 L 1997 1497 L 313 1497 L 313 2009 z" transform="scale(0.015625)"/>
</defs>
<use href="#DejaVuSans-43"/>
<use href="#DejaVuSans-42" transform="translate(69.824219 0)"/>
<use href="#DejaVuSans-4f" transform="translate(136.677734 0)"/>
<use href="#DejaVuSans-45" transform="translate(215.388672 0)"/>
<use href="#DejaVuSans-20" transform="translate(278.572266 0)"/>
<use href="#DejaVuSans-56" transform="translate(310.359375 0)"/>
<use href="#DejaVuSans-6f" transform="translate(371.017578 0)"/>
<use href="#DejaVuSans-6c" transform="translate(432.199219 0)"/>
<use href="#DejaVuSans-61" transform="translate(459.982422 0)"/>
<use href="#DejaVuSans-74" transform="translate(521.261719 0)"/>
<use href="#DejaVuSans-69" transform="translate(560.470703 0)"/>
<use href="#DejaVuSans-6c" transform="translate(588.253906 0)"/>
<use href="#DejaVuSans-69" transform="translate(616.037109 0)"/>
<use href="#DejaVuSans-74" transform="translate(643.820312 0)"/>
<use href="#DejaVuSans-79" transform="translate(683.029297 0)"/>
<use href="#DejaVuSans-20" transform="translate(742.208984 0)"/>
<use href="#DejaVuSans-49" transform="translate(773.996094 0)"/>
<use href="#DejaVuSans-6e" transform="translate(803.488281 0)"/>
<use href="#DejaVuSans-64" transform="translate(866.867188 0)"/>
<use href="#DejaVuSans-65" transform="translate(930.34375 0)"/>
<use href="#DejaVuSans-78" transform="translate(990.117188 0)"/>
<use href="#DejaVuSans-20" transform="translate(1049.296875 0)"/>
<use href="#DejaVuSans-28" transform="translate(1081.083984 0)"/>
<use href="#DejaVuSans-56" transform="translate(1120.097656 0)"/>
<use href="#DejaVuSans-49" transform="translate(1188.505859 0)"/>
<use href="#DejaVuSans-58" transform="translate(1217.998047 0)"/>
<use href="#DejaVuSans-29" transform="translate(1286.503906 0)"/>
<use href="#DejaVuSans-2c" transform="translate(1325.517578 0)"/>
<use href="#DejaVuSans-20" transform="translate(1357.304688 0)"/>
<use href="#DejaVuSans-32" transform="translate(1389.091797 0)"/>
<use href="#DejaVuSans-30" transform="translate(1452.714844 0)"/>
<use href="#DejaVuSans-30" transform="translate(1516.337891 0)"/>
<use href="#DejaVuSans-31" transform="translate(1579.960938 0)"/>
<use href="#DejaVuSans-20" transform="translate(1643.583984 0)"/>
<use href="#DejaVuSans-2d" transform="translate(1675.371094 0)"/>
<use href="#DejaVuSans-20" transform="translate(1711.455078 0)"/>
<use href="#DejaVuSans-32" transform="translate(1743.242188 0)"/>
<use href="#DejaVuSans-30" transform="translate(1806.865234 0)"/>
<use href="#DejaVuSans-30" transform="translate(1870.488281 0)"/>
<use href="#DejaVuSans-31" transform="translate(1934.111328 0)"/>
</g>
</g>
<g id="legend_1">
<g id="patch_7">
<path d="M 638.298 108.139 L 843.528 108.139 Q 845.328 108.139 845.328 106.339 L 845.328 28.44 Q 845.328 26.64 843.528 26.64 L 638.298 26.64 Q 636.498 26.64 636.498 28.44 L 636.498 106.339 Q 636.498 108.139 638.298 108.139 z" style="fill: #ffffff; opacity: 0.8; stroke: #cccccc; stroke-linejoin: miter"/>
</g>
<g id="line2d_46">
<path d="M 640.029 33.859 L 649.029 33.859 L 658.029 33.859" style="fill: none; stroke: #4682b4; stroke-linecap: square"/>
</g>
<g id="text_24">
<text class="t" transform="translate(665.2286 37.2733)" font-size="9" textLength="19.9211" lengthAdjust="spacingAndGlyphs">High</text>
<g transform="translate(665.2286 37.2733) scale(0.09 -0.09)">
<defs>
<path id="DejaVuSans-48" d="M 628 4666 L 1259 4666 L 1259 2753 L 3553 2753 L 3553 4666 L 4184 4666 L 4184 0 L 3553 0 L 3553 2222 L 1259 2222 L 1259 0 L 628 0 L 628 4666 z" transform="scale(0.015625)"/>
<path id="DejaVuSans-68" d="M 3513 2113 L 3513 0 L 2938 0 L 2938 2094 Q 2938 2591 2744 2837 Q 2550 3084 2163 3084 Q 1697 3084 1428 2787 Q 1159 2491 1159 1978 L 1159 0 L 581 0 L 581 4863 L 1159 4863 L 1159 2956 Q 1366 3272 1645 3428 Q 1925 3584 2291 3584 Q 2894 3584 3203 3211 Q 3513 2838 3513 2113 z" transform="scale(0.015625)"/>
</defs>
<use href="#DejaVuSans-48"/>
<use href="#DejaVuSans-69" transform="translate(75.195312 0)"/>
<use href="#DejaVuSans-67" transform="translate(102.978516 0)"/>
<use href="#DejaVuSans-68" transform="translate(166.455078 0)"/>
</g>
</g>
<g id="line2d_47">
<path d="M 640.029 47.005 L 649.029 47.005 L 658.029 47.005" style="fill: none; stroke: #a52a2a; stroke-linecap: square"/>
</g>
<g id="text_25">
<text class="t" transform="translate(665.2286 50.4188)" font-size="9" textLength="17.3464" lengthAdjust="spacingAndGlyphs">Low</text>
<g transform="translate(665.2286 50.4188) scale(0.09 -0.09)">
<defs>
<path id="DejaVuSans-4c" d="M 628 4666 L 1259 4666 L 1259 531 L 3531 531 L 3531 0 L 628 0 L 628 4666 z" transform="scale(0.015625)"/>
<path id="DejaVuSans-77" d="M 269 3500 L 844 3500 L 1563 769 L 2278 3500 L 2956 3500 L 3675 769 L 4391 3500 L 4966 3500 L 4050 0 L 3372 0 L 2619 2869 L 1863 0 L 1184 0 L 269 3500 z" transform="scale(0.015625)"/>
</defs>
<use href="#DejaVuSans-4c"/>
<use href="#DejaVuSans-6f" transform="translate(53.962891 0)"/>
<use href="#DejaVuSans-77" transform="translate(115.144531 0)"/>
</g>
</g>
<g id="line2d_48">
<path d="M 640.029 60.15 L 649.029 60.15 L 658.029 60.15" style="fill: none; stroke: #ff0000; stroke-linecap: square"/>
</g>
<g id="text_26">
<text class="t" transform="translate(665.2286 63.5643)" font-size="9" textLength="78.0513" lengthAdjust="spacingAndGlyphs">10 Day High SMA</text>
<g transform="translate(665.2286 63.5643) scale(0.09 -0.09)">
<use href="#DejaVuSans-31"/>
<use href="#DejaVuSans-30" transform="translate(63.623047 0)"/>
<use href="#DejaVuSans-20" transform="translate(127.246094 0)"/>
<use href="#DejaVuSans-44" transform="translate(159.033203 0)"/>
<use href="#DejaVuSans-61" transform="translate(236.035156 0)"/>
<use href="#DejaVuSans-79" transform="translate(297.314453 0)"/>
<use href="#DejaVuSans-20" transform="translate(356.494141 0)"/>
<use href="#DejaVuSans-48" transform="translate(388.28125 0)"/>
<use href="#DejaVuSans-69" transform="translate(463.476562 0)"/>
<use href="#DejaVuSans-67" transform="translate(491.259766 0)"/>
<use href="#DejaVuSans-68" transform="translate(554.736328 0)"/>
<use href="#DejaVuSans-20" transform="translate(618.115234 0)"/>
<use href="#DejaVuSans-53" transform="translate(649.902344 0)"/>
<use href="#DejaVuSans-4d" transform="translate(713.378906 0)"/>
<use href="#DejaVuSans-41" transform="translate(799.658203 0)"/>
</g>
</g>
<g id="line2d_49">
<path d="M 640.029 73.296 L 649.029 73.296 L 658.029 73.296" style="fill: none; stroke: #ffa500; stroke-linecap: square"/>
</g>
<g id="text_27">
<text class="t" transform="translate(665.2286 76.7098)" font-size="9" textLength="78.0513" lengthAdjust="spacingAndGlyphs">20 Day High SMA</text>
<g transform="translate(665.2286 76.7098) scale(0.09 -0.09)">
<use href="#DejaVuSans-32"/>
<use href="#DejaVuSans-30" transform="translate(63.623047 0)"/>
<use href="#DejaVuSans-20" transform="translate(127.246094 0)"/>
<use href="#DejaVuSans-44" transform="translate(159.033203 0)"/>
<use href="#DejaVuSans-61" transform="translate(236.035156 0)"/>
<use href="#DejaVuSans-79" transform="translate(297.314453 0)"/>
<use href="#DejaVuSans-20" transform="translate(356.494141 0)"/>
<use href="#DejaVuSans-48" transform="translate(388.28125 0)"/>
<use href="#DejaVuSans-69" transform="translate(463.476562 0)"/>
<use href="#DejaVuSans-67" transform="translate(491.259766 0)"/>
<use href="#DejaVuSans-68" transform="translate(554.736328 0)"/>
<use href="#DejaVuSans-20" transform="translate(618.115234 0)"/>
<use href="#DejaVuSans-53" transform="translate(649.902344 0)"/>
<use href="#DejaVuSans-4d" transform="translate(713.378906 0)"/>
<use href="#DejaVuSans-41" transform="translate(799.658203 0)"/>
</g>
</g>
<g id="line2d_50">
<path d="M 640.029 86.441 L 649.029 86.441 L 658.029 86.441" style="fill: none; stroke: #008000; stroke-linecap: square"/>
</g>
<g id="text_28">
<text class="t" transform="translate(665.2286 89.8553)" font-size="9" textLength="78.0513" lengthAdjust="spacingAndGlyphs">50 Day High SMA</text>
<g transform="translate(665.2286 89.8553) scale(0.09 -0.09)">
<use href="#DejaVuSans-35"/>
<use href="#DejaVuSans-30" transform="translate(63.623047 0)"/>
<use href="#DejaVuSans-20" transform="translate(127.246094 0)"/>
<use href="#DejaVuSans-44" transform="translate(159.033203 0)"/>
<use href="#DejaVuSans-61" transform="translate(236.035156 0)"/>
<use href="#DejaVuSans-79" transform="translate(297.314453 0)"/>
<use href="#DejaVuSans-20" transform="translate(356.494141 0)"/>
<use href="#DejaVuSans-48" transform="translate(388.28125 0)"/>
<use href="#DejaVuSans-69" transform="translate(463.476562 0)"/>
<use href="#DejaVuSans-67" transform="translate(491.259766 0)"/>
<use href="#DejaVuSans-68" transform="translate(554.736328 0)"/>
<use href="#DejaVuSans-20" transform="translate(618.115234 0)"/>
<use href="#DejaVuSans-53" transform="translate(649.902344 0)"/>
<use href="#DejaVuSans-4d" transform="translate(713.378906 0)"/>
<use href="#DejaVuSans-41" transform="translate(799.658203 0)"/>
</g>
</g>
<g id="PathCollection_2">
<g>
<use href="#m81a8349611" x="649.02855" y="100.374356" style="stroke: #000000"/>
</g>
</g>
<g id="text_29">
<text class="t" transform="translate(665.2286 103.0009)" font-size="9" textLength="175.7936" lengthAdjust="spacingAndGlyphs">Spike (High &gt; 1.25 * 10 Day High SMA)</text>
<g transform="translate(665.2286 103.0009) scale(0.09 -0.09)">
<defs>
<path id="DejaVuSans-6b" d="M 581 4863 L 1159 4863 L 1159 1991 L 2875 3500 L 3609 3500 L 1753 1863 L 3688 0 L 2938 0 L 1159 1709 L 1159 0 L 581 0 L 581 4863 z" transform="scale(0.015625)"/>
<path id="DejaVuSans-3e" d="M 678 3150 L 678 3719 L 4684 2266 L 4684 1747 L 678 294 L 678 863 L 3897 2003 L 678 3150 z" transform="scale(0.015625)"/>
<path id="DejaVuSans-2e" d="M 684 794 L 1344 794 L 1344 0 L 684 0 L 684 794 z" transform="scale(0.015625)"/>
<path id="DejaVuSans-2a" d="M 3009 3897 L 1888 3291 L 3009 2681 L 2828 2375 L 1778 3009 L 1778 1831 L 1422 1831 L 1422 3009 L 372 2375 L 191 2681 L 1313 3291 L 191 3897 L 372 4206 L 1422 3572 L 1422 4750 L 1778 4750 L 1778 3572 L 2828 4206 L 3009 3897 z" transform="scale(0.015625)"/>
</defs>
<use href="#DejaVuSans-53"/>
<use href="#DejaVuSans-70" transform="translate(63.476562 0)"/>
<use href="#DejaVuSans-69" transform="translate(126.953125 0)"/>
<use href="#DejaVuSans-6b" transform="translate(154.736328 0)"/>
<use href="#DejaVuSans-65" transform="translate(209.021484 0)"/>
<use href="#DejaVuSans-20" transform="translate(270.544922 0)"/>
<use href="#DejaVuSans-28" transform="translate(302.332031 0)"/>
<use href="#DejaVuSans-48" transform="translate(341.345703 0)"/>
<use href="#DejaVuSans-69" transform="translate(416.541016 0)"/>
<use href="#DejaVuSans-67" transform="translate(444.324219 0)"/>
<use href="#DejaVuSans-68" transform="translate(507.800781 0)"/>
<use href="#DejaVuSans-20" transform="translate(571.179688 0)"/>
<use href="#DejaVuSans-3e" transform="translate(602.966797 0)"/>
<use href="#DejaVuSans-20" transform="translate(686.755859 0)"/>
<use href="#DejaVuSans-31" transform="translate(718.542969 0)"/>
<use href="#DejaVuSans-2e" transform="translate(782.166016 0)"/>
<use href="#DejaVuSans-32" transform="translate(813.953125 0)"/>
<use href="#DejaVuSans-35" transform="translate(877.576172 0)"/>
<use href="#DejaVuSans-20" transform="translate(941.199219 0)"/>
<use href="#DejaVuSans-2a" transform="translate(972.986328 0)"/>
<use href="#DejaVuSans-20" transform="translate(1022.986328 0)"/>
<use href="#DejaVuSans-31" transform="translate(1054.773438 0)"/>
<use href="#DejaVuSans-30" transform="translate(1118.396484 0)"/>
<use href="#DejaVuSans-20" transform="translate(1182.019531 0)"/>
<use href="#DejaVuSans-44" transform="translate(1213.806641 0)"/>
<use href="#DejaVuSans-61" transform="translate(1290.808594 0)"/>
<use href="#DejaVuSans-79" transform="translate(1352.087891 0)"/>
<use href="#DejaVuSans-20" transform="translate(1411.267578 0)"/>
<use href="#DejaVuSans-48" transform="translate(1443.054688 0)"/>
<use href="#DejaVuSans-69" transform="translate(1518.25 0)"/>
<use href="#DejaVuSans-67" transform="translate(1546.033203 0)"/>
<use href="#DejaVuSans-68" transform="translate(1609.509766 0)"/>
<use href="#DejaVuSans-20" transform="translate(1672.888672 0)"/>
<use href="#DejaVuSans-53" transform="translate(1704.675781 0)"/>
<use href="#DejaVuSans-4d" transform="translate(1768.152344 0)"/>
<use href="#DejaVuSans-41" transform="translate(1854.431641 0)"/>
<use href="#DejaVuSans-29" transform="translate(1922.839844 0)"/>
</g>
</g>
</g>
</g>
</g>
<defs>
<clipPath id="p060f261e8b">
<rect x="38.4" y="22.32" width="811.2" height="340.08"/>
</clipPath>
</defs>
</svg>

</body>
</html>
